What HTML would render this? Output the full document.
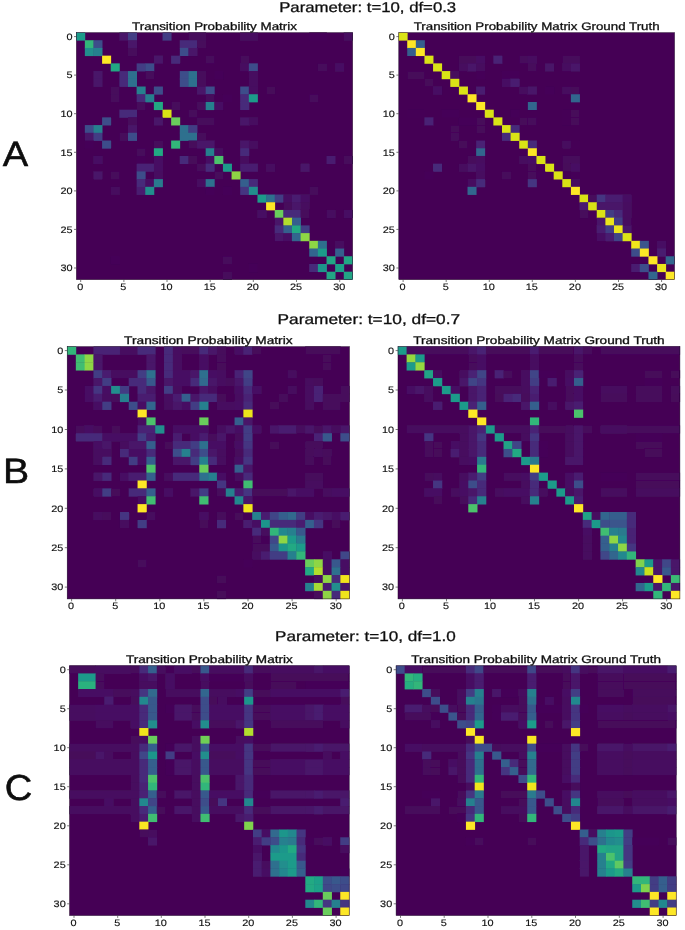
<!DOCTYPE html>
<html><head><meta charset="utf-8"><title>Transition Probability Matrices</title>
<style>
html,body{margin:0;padding:0;background:#fff;}
body{width:685px;height:930px;overflow:hidden;position:relative;font-family:"Liberation Sans",sans-serif;}
svg{position:absolute;left:0;top:0;}
text{font-family:"Liberation Sans",sans-serif;fill:#111;text-rendering:geometricPrecision;}
.tt,.st{stroke:#111;stroke-width:0.3px;}
.tk{stroke:#111;stroke-width:0.15px;}
.tk{font-size:9.4px;}
.tt{font-size:10.9px;}
.st{font-size:14.1px;}
.lb{font-size:36px;}
</style></head><body>
<svg width="685" height="930" viewBox="0 0 685 930">
<defs><filter id="t" x="-5%" y="-30%" width="110%" height="160%"><feGaussianBlur stdDeviation="0.4"/></filter><filter id="b" x="-2%" y="-2%" width="104%" height="104%"><feGaussianBlur stdDeviation="0.75"/></filter></defs>
<rect x="0" y="0" width="685" height="930" fill="#ffffff"/>

<g id="AL">
<g filter="url(#b)"><rect x="76.4" y="32.7" width="276.2" height="246.9" fill="#440154"/>
<rect x="76.20" y="32.50" width="9.03" height="8.12" fill="#1e9b8a"/>
<rect x="119.36" y="32.50" width="9.03" height="8.12" fill="#481769"/>
<rect x="127.99" y="32.50" width="9.03" height="8.12" fill="#433d84"/>
<rect x="162.51" y="32.50" width="9.03" height="8.12" fill="#433d84"/>
<rect x="188.41" y="32.50" width="17.66" height="8.12" fill="#46085c"/>
<rect x="240.19" y="32.50" width="17.66" height="8.12" fill="#470e61"/>
<rect x="309.24" y="32.50" width="17.66" height="8.12" fill="#450559"/>
<rect x="343.77" y="32.50" width="9.03" height="8.12" fill="#470e61"/>
<rect x="84.83" y="40.22" width="9.03" height="8.12" fill="#32b67a"/>
<rect x="93.46" y="40.22" width="9.03" height="8.12" fill="#3d4d8a"/>
<rect x="127.99" y="40.22" width="9.03" height="8.12" fill="#481769"/>
<rect x="179.78" y="40.22" width="17.66" height="8.12" fill="#472c7a"/>
<rect x="197.04" y="40.22" width="9.03" height="8.12" fill="#46085c"/>
<rect x="84.83" y="47.93" width="9.03" height="8.12" fill="#218e8d"/>
<rect x="93.46" y="47.93" width="9.03" height="8.12" fill="#27808e"/>
<rect x="127.99" y="47.93" width="9.03" height="8.12" fill="#46085c"/>
<rect x="179.78" y="47.93" width="9.03" height="8.12" fill="#3d4d8a"/>
<rect x="188.41" y="47.93" width="9.03" height="8.12" fill="#481769"/>
<rect x="102.09" y="55.65" width="9.03" height="8.12" fill="#fde725"/>
<rect x="153.88" y="55.65" width="9.03" height="8.12" fill="#481769"/>
<rect x="171.14" y="55.65" width="9.03" height="8.12" fill="#472c7a"/>
<rect x="205.67" y="55.65" width="9.03" height="8.12" fill="#46085c"/>
<rect x="240.19" y="55.65" width="9.03" height="8.12" fill="#46085c"/>
<rect x="110.73" y="63.36" width="9.03" height="8.12" fill="#23a983"/>
<rect x="136.62" y="63.36" width="9.03" height="8.12" fill="#433d84"/>
<rect x="145.25" y="63.36" width="9.03" height="8.12" fill="#3d4d8a"/>
<rect x="240.19" y="63.36" width="9.03" height="8.12" fill="#470e61"/>
<rect x="248.83" y="63.36" width="9.03" height="8.12" fill="#3d4d8a"/>
<rect x="317.88" y="63.36" width="9.03" height="8.12" fill="#46085c"/>
<rect x="335.14" y="63.36" width="9.03" height="8.12" fill="#471164"/>
<rect x="93.46" y="71.08" width="9.03" height="8.12" fill="#481769"/>
<rect x="119.36" y="71.08" width="9.03" height="8.12" fill="#472c7a"/>
<rect x="127.99" y="71.08" width="9.03" height="8.12" fill="#2d708e"/>
<rect x="145.25" y="71.08" width="9.03" height="8.12" fill="#46085c"/>
<rect x="179.78" y="71.08" width="9.03" height="8.12" fill="#3d4d8a"/>
<rect x="188.41" y="71.08" width="9.03" height="8.12" fill="#2d708e"/>
<rect x="197.04" y="71.08" width="9.03" height="8.12" fill="#46085c"/>
<rect x="214.30" y="71.08" width="9.03" height="8.12" fill="#450559"/>
<rect x="248.83" y="71.08" width="9.03" height="8.12" fill="#470e61"/>
<rect x="93.46" y="78.79" width="9.03" height="8.12" fill="#481769"/>
<rect x="119.36" y="78.79" width="9.03" height="8.12" fill="#472c7a"/>
<rect x="127.99" y="78.79" width="9.03" height="8.12" fill="#2d708e"/>
<rect x="179.78" y="78.79" width="9.03" height="8.12" fill="#3d4d8a"/>
<rect x="188.41" y="78.79" width="9.03" height="8.12" fill="#2d708e"/>
<rect x="197.04" y="78.79" width="9.03" height="8.12" fill="#46085c"/>
<rect x="248.83" y="78.79" width="9.03" height="8.12" fill="#470e61"/>
<rect x="110.73" y="86.51" width="9.03" height="8.12" fill="#46085c"/>
<rect x="136.62" y="86.51" width="9.03" height="8.12" fill="#27808e"/>
<rect x="153.88" y="86.51" width="9.03" height="8.12" fill="#3d4d8a"/>
<rect x="197.04" y="86.51" width="9.03" height="8.12" fill="#481769"/>
<rect x="205.67" y="86.51" width="9.03" height="8.12" fill="#3d4d8a"/>
<rect x="240.19" y="86.51" width="9.03" height="8.12" fill="#3d4d8a"/>
<rect x="248.83" y="86.51" width="9.03" height="8.12" fill="#470e61"/>
<rect x="266.09" y="86.51" width="9.03" height="8.12" fill="#46075a"/>
<rect x="110.73" y="94.23" width="9.03" height="8.12" fill="#46085c"/>
<rect x="136.62" y="94.23" width="9.03" height="8.12" fill="#472c7a"/>
<rect x="145.25" y="94.23" width="9.03" height="8.12" fill="#27808e"/>
<rect x="205.67" y="94.23" width="9.03" height="8.12" fill="#46085c"/>
<rect x="222.93" y="94.23" width="9.03" height="8.12" fill="#450559"/>
<rect x="240.19" y="94.23" width="9.03" height="8.12" fill="#472c7a"/>
<rect x="248.83" y="94.23" width="9.03" height="8.12" fill="#1e9b8a"/>
<rect x="309.24" y="94.23" width="9.03" height="8.12" fill="#46085c"/>
<rect x="136.62" y="101.94" width="9.03" height="8.12" fill="#46085c"/>
<rect x="153.88" y="101.94" width="9.03" height="8.12" fill="#23a983"/>
<rect x="171.14" y="101.94" width="9.03" height="8.12" fill="#46085c"/>
<rect x="197.04" y="101.94" width="9.03" height="8.12" fill="#46085c"/>
<rect x="205.67" y="101.94" width="9.03" height="8.12" fill="#27808e"/>
<rect x="214.30" y="101.94" width="9.03" height="8.12" fill="#471164"/>
<rect x="240.19" y="101.94" width="9.03" height="8.12" fill="#472c7a"/>
<rect x="119.36" y="109.66" width="17.66" height="8.12" fill="#472c7a"/>
<rect x="162.51" y="109.66" width="9.03" height="8.12" fill="#dae319"/>
<rect x="188.41" y="109.66" width="9.03" height="8.12" fill="#46085c"/>
<rect x="102.09" y="117.37" width="9.03" height="8.12" fill="#3d4d8a"/>
<rect x="127.99" y="117.37" width="9.03" height="8.12" fill="#46085c"/>
<rect x="153.88" y="117.37" width="9.03" height="8.12" fill="#481769"/>
<rect x="171.14" y="117.37" width="9.03" height="8.12" fill="#69cd5b"/>
<rect x="197.04" y="117.37" width="17.66" height="8.12" fill="#46085c"/>
<rect x="240.19" y="117.37" width="9.03" height="8.12" fill="#481769"/>
<rect x="248.83" y="117.37" width="9.03" height="8.12" fill="#470e61"/>
<rect x="84.83" y="125.09" width="9.03" height="8.12" fill="#3d4d8a"/>
<rect x="93.46" y="125.09" width="9.03" height="8.12" fill="#27808e"/>
<rect x="127.99" y="125.09" width="9.03" height="8.12" fill="#481769"/>
<rect x="179.78" y="125.09" width="9.03" height="8.12" fill="#2d708e"/>
<rect x="188.41" y="125.09" width="9.03" height="8.12" fill="#433d84"/>
<rect x="84.83" y="132.80" width="9.03" height="8.12" fill="#481769"/>
<rect x="93.46" y="132.80" width="9.03" height="8.12" fill="#433d84"/>
<rect x="119.36" y="132.80" width="9.03" height="8.12" fill="#46085c"/>
<rect x="127.99" y="132.80" width="9.03" height="8.12" fill="#3d4d8a"/>
<rect x="179.78" y="132.80" width="17.66" height="8.12" fill="#2d708e"/>
<rect x="197.04" y="132.80" width="9.03" height="8.12" fill="#46085c"/>
<rect x="84.83" y="140.52" width="9.03" height="8.12" fill="#450559"/>
<rect x="102.09" y="140.52" width="9.03" height="8.12" fill="#3d4d8a"/>
<rect x="153.88" y="140.52" width="9.03" height="8.12" fill="#46085c"/>
<rect x="171.14" y="140.52" width="9.03" height="8.12" fill="#32b67a"/>
<rect x="188.41" y="140.52" width="9.03" height="8.12" fill="#46085c"/>
<rect x="197.04" y="140.52" width="17.66" height="8.12" fill="#481769"/>
<rect x="240.19" y="140.52" width="9.03" height="8.12" fill="#481769"/>
<rect x="248.83" y="140.52" width="9.03" height="8.12" fill="#470e61"/>
<rect x="136.62" y="148.23" width="9.03" height="8.12" fill="#46085c"/>
<rect x="153.88" y="148.23" width="9.03" height="8.12" fill="#23a983"/>
<rect x="205.67" y="148.23" width="9.03" height="8.12" fill="#27808e"/>
<rect x="214.30" y="148.23" width="9.03" height="8.12" fill="#460b5e"/>
<rect x="240.19" y="148.23" width="9.03" height="8.12" fill="#472c7a"/>
<rect x="93.46" y="155.95" width="9.03" height="8.12" fill="#471164"/>
<rect x="136.62" y="155.95" width="9.03" height="8.12" fill="#450559"/>
<rect x="153.88" y="155.95" width="9.03" height="8.12" fill="#471164"/>
<rect x="179.78" y="155.95" width="9.03" height="8.12" fill="#472c7a"/>
<rect x="188.41" y="155.95" width="9.03" height="8.12" fill="#46075a"/>
<rect x="205.67" y="155.95" width="9.03" height="8.12" fill="#471164"/>
<rect x="214.30" y="155.95" width="9.03" height="8.12" fill="#4cc26c"/>
<rect x="240.19" y="155.95" width="9.03" height="8.12" fill="#460b5e"/>
<rect x="326.51" y="155.95" width="9.03" height="8.12" fill="#481f70"/>
<rect x="343.77" y="155.95" width="9.03" height="8.12" fill="#46085c"/>
<rect x="136.62" y="163.67" width="17.66" height="8.12" fill="#482475"/>
<rect x="153.88" y="163.67" width="9.03" height="8.12" fill="#471164"/>
<rect x="197.04" y="163.67" width="9.03" height="8.12" fill="#46085c"/>
<rect x="205.67" y="163.67" width="9.03" height="8.12" fill="#472c7a"/>
<rect x="222.93" y="163.67" width="9.03" height="8.12" fill="#1e9b8a"/>
<rect x="240.19" y="163.67" width="17.66" height="8.12" fill="#481f70"/>
<rect x="266.09" y="163.67" width="9.03" height="8.12" fill="#470e61"/>
<rect x="300.61" y="163.67" width="9.03" height="8.12" fill="#481769"/>
<rect x="93.46" y="171.38" width="9.03" height="8.12" fill="#481769"/>
<rect x="110.73" y="171.38" width="9.03" height="8.12" fill="#46085c"/>
<rect x="136.62" y="171.38" width="9.03" height="8.12" fill="#3d4d8a"/>
<rect x="153.88" y="171.38" width="9.03" height="8.12" fill="#470e61"/>
<rect x="214.30" y="171.38" width="9.03" height="8.12" fill="#46085c"/>
<rect x="231.56" y="171.38" width="9.03" height="8.12" fill="#8ed645"/>
<rect x="136.62" y="179.10" width="9.03" height="8.12" fill="#472c7a"/>
<rect x="145.25" y="179.10" width="9.03" height="8.12" fill="#471164"/>
<rect x="153.88" y="179.10" width="9.03" height="8.12" fill="#297a8e"/>
<rect x="197.04" y="179.10" width="9.03" height="8.12" fill="#470e61"/>
<rect x="205.67" y="179.10" width="9.03" height="8.12" fill="#2d708e"/>
<rect x="240.19" y="179.10" width="9.03" height="8.12" fill="#355f8d"/>
<rect x="248.83" y="179.10" width="9.03" height="8.12" fill="#472c7a"/>
<rect x="110.73" y="186.81" width="9.03" height="8.12" fill="#460b5e"/>
<rect x="136.62" y="186.81" width="9.03" height="8.12" fill="#481f70"/>
<rect x="145.25" y="186.81" width="9.03" height="8.12" fill="#218e8d"/>
<rect x="205.67" y="186.81" width="9.03" height="8.12" fill="#450559"/>
<rect x="222.93" y="186.81" width="9.03" height="8.12" fill="#450559"/>
<rect x="240.19" y="186.81" width="9.03" height="8.12" fill="#453581"/>
<rect x="248.83" y="186.81" width="9.03" height="8.12" fill="#218e8d"/>
<rect x="309.24" y="186.81" width="9.03" height="8.12" fill="#46085c"/>
<rect x="257.46" y="194.53" width="9.03" height="8.12" fill="#1e9b8a"/>
<rect x="266.09" y="194.53" width="9.03" height="8.12" fill="#2d708e"/>
<rect x="274.72" y="194.53" width="9.03" height="8.12" fill="#433d84"/>
<rect x="283.35" y="194.53" width="9.03" height="8.12" fill="#471164"/>
<rect x="291.98" y="194.53" width="9.03" height="8.12" fill="#481f70"/>
<rect x="300.61" y="194.53" width="9.03" height="8.12" fill="#471164"/>
<rect x="266.09" y="202.24" width="9.03" height="8.12" fill="#fde725"/>
<rect x="283.35" y="202.24" width="9.03" height="8.12" fill="#46085c"/>
<rect x="291.98" y="202.24" width="9.03" height="8.12" fill="#481769"/>
<rect x="300.61" y="202.24" width="9.03" height="8.12" fill="#460b5e"/>
<rect x="257.46" y="209.96" width="9.03" height="8.12" fill="#471164"/>
<rect x="274.72" y="209.96" width="9.03" height="8.12" fill="#69cd5b"/>
<rect x="283.35" y="209.96" width="17.66" height="8.12" fill="#472c7a"/>
<rect x="300.61" y="209.96" width="9.03" height="8.12" fill="#46085c"/>
<rect x="326.51" y="209.96" width="9.03" height="8.12" fill="#470e61"/>
<rect x="343.77" y="209.96" width="9.03" height="8.12" fill="#471164"/>
<rect x="274.72" y="217.68" width="9.03" height="8.12" fill="#481769"/>
<rect x="283.35" y="217.68" width="9.03" height="8.12" fill="#b2dd2d"/>
<rect x="291.98" y="217.68" width="9.03" height="8.12" fill="#355f8d"/>
<rect x="274.72" y="225.39" width="9.03" height="8.12" fill="#472c7a"/>
<rect x="283.35" y="225.39" width="9.03" height="8.12" fill="#355f8d"/>
<rect x="291.98" y="225.39" width="9.03" height="8.12" fill="#23a983"/>
<rect x="300.61" y="225.39" width="9.03" height="8.12" fill="#433d84"/>
<rect x="274.72" y="233.11" width="9.03" height="8.12" fill="#481769"/>
<rect x="283.35" y="233.11" width="9.03" height="8.12" fill="#471164"/>
<rect x="291.98" y="233.11" width="9.03" height="8.12" fill="#31668e"/>
<rect x="300.61" y="233.11" width="9.03" height="8.12" fill="#8ed645"/>
<rect x="309.24" y="240.82" width="9.03" height="8.12" fill="#8ed645"/>
<rect x="317.88" y="240.82" width="9.03" height="8.12" fill="#2d708e"/>
<rect x="335.14" y="240.82" width="9.03" height="8.12" fill="#470e61"/>
<rect x="309.24" y="248.54" width="9.03" height="8.12" fill="#31668e"/>
<rect x="317.88" y="248.54" width="9.03" height="8.12" fill="#1e9b8a"/>
<rect x="335.14" y="248.54" width="9.03" height="8.12" fill="#355f8d"/>
<rect x="110.73" y="256.25" width="9.03" height="8.12" fill="#450559"/>
<rect x="222.93" y="256.25" width="9.03" height="8.12" fill="#46085c"/>
<rect x="326.51" y="256.25" width="9.03" height="8.12" fill="#21a685"/>
<rect x="343.77" y="256.25" width="9.03" height="8.12" fill="#21a685"/>
<rect x="248.83" y="263.97" width="9.03" height="8.12" fill="#450559"/>
<rect x="309.24" y="263.97" width="9.03" height="8.12" fill="#472c7a"/>
<rect x="317.88" y="263.97" width="9.03" height="8.12" fill="#1f968b"/>
<rect x="335.14" y="263.97" width="9.03" height="8.12" fill="#1fa188"/>
<rect x="222.93" y="271.68" width="9.03" height="8.12" fill="#46085c"/>
<rect x="326.51" y="271.68" width="9.03" height="8.12" fill="#21a685"/>
<rect x="343.77" y="271.68" width="9.03" height="8.12" fill="#21a685"/>
<rect x="76.4" y="32.7" width="276.2" height="246.9" fill="none" stroke="#1c0824" stroke-width="0.5"/>
</g>
<g filter="url(#t)">
<text class="tk" transform="translate(72.5 39.9) scale(1.16 1)" text-anchor="end">0</text>
<text class="tk" transform="translate(80.2 289.8) scale(1.16 1)" text-anchor="middle">0</text>
<text class="tk" transform="translate(72.5 78.4) scale(1.16 1)" text-anchor="end">5</text>
<text class="tk" transform="translate(123.4 289.8) scale(1.16 1)" text-anchor="middle">5</text>
<text class="tk" transform="translate(72.5 117.0) scale(1.16 1)" text-anchor="end">10</text>
<text class="tk" transform="translate(166.5 289.8) scale(1.16 1)" text-anchor="middle">10</text>
<text class="tk" transform="translate(72.5 155.6) scale(1.16 1)" text-anchor="end">15</text>
<text class="tk" transform="translate(209.7 289.8) scale(1.16 1)" text-anchor="middle">15</text>
<text class="tk" transform="translate(72.5 194.2) scale(1.16 1)" text-anchor="end">20</text>
<text class="tk" transform="translate(252.8 289.8) scale(1.16 1)" text-anchor="middle">20</text>
<text class="tk" transform="translate(72.5 232.7) scale(1.16 1)" text-anchor="end">25</text>
<text class="tk" transform="translate(296.0 289.8) scale(1.16 1)" text-anchor="middle">25</text>
<text class="tk" transform="translate(72.5 271.3) scale(1.16 1)" text-anchor="end">30</text>
<text class="tk" transform="translate(339.2 289.8) scale(1.16 1)" text-anchor="middle">30</text>
<path d="M74.0 36.6H76.4M80.7 279.6V282.0M74.0 75.1H76.4M123.9 279.6V282.0M74.0 113.7H76.4M167.0 279.6V282.0M74.0 152.3H76.4M210.2 279.6V282.0M74.0 190.9H76.4M253.3 279.6V282.0M74.0 229.4H76.4M296.5 279.6V282.0M74.0 268.0H76.4M339.7 279.6V282.0" stroke="#444" stroke-width="0.7" fill="none"/>
<text class="tt" x="132.1" y="30.0" textLength="164.9" lengthAdjust="spacingAndGlyphs">Transition Probability Matrix</text>
</g></g>
<g id="AR">
<g filter="url(#b)"><rect x="398.8" y="32.7" width="275.7" height="246.9" fill="#440154"/>
<rect x="398.60" y="32.50" width="9.02" height="8.12" fill="#dae319"/>
<rect x="407.22" y="40.22" width="9.02" height="8.12" fill="#fde725"/>
<rect x="415.83" y="40.22" width="9.02" height="8.12" fill="#355f8d"/>
<rect x="407.22" y="47.93" width="9.02" height="8.12" fill="#355f8d"/>
<rect x="415.83" y="47.93" width="9.02" height="8.12" fill="#fde725"/>
<rect x="424.45" y="55.65" width="9.02" height="8.12" fill="#dae319"/>
<rect x="458.91" y="55.65" width="17.63" height="8.12" fill="#46075a"/>
<rect x="476.14" y="55.65" width="9.02" height="8.12" fill="#471164"/>
<rect x="493.37" y="55.65" width="9.02" height="8.12" fill="#482475"/>
<rect x="519.22" y="55.65" width="9.02" height="8.12" fill="#46085c"/>
<rect x="527.83" y="55.65" width="9.02" height="8.12" fill="#470e61"/>
<rect x="562.30" y="55.65" width="17.63" height="8.12" fill="#46085c"/>
<rect x="433.06" y="63.36" width="9.02" height="8.12" fill="#dae319"/>
<rect x="458.91" y="63.36" width="9.02" height="8.12" fill="#460b5e"/>
<rect x="467.53" y="63.36" width="9.02" height="8.12" fill="#481769"/>
<rect x="476.14" y="63.36" width="9.02" height="8.12" fill="#460b5e"/>
<rect x="527.83" y="63.36" width="9.02" height="8.12" fill="#46085c"/>
<rect x="545.07" y="63.36" width="9.02" height="8.12" fill="#481467"/>
<rect x="562.30" y="63.36" width="9.02" height="8.12" fill="#470e61"/>
<rect x="570.91" y="63.36" width="9.02" height="8.12" fill="#481769"/>
<rect x="407.22" y="71.08" width="17.63" height="8.12" fill="#46075a"/>
<rect x="441.68" y="71.08" width="9.02" height="8.12" fill="#dae319"/>
<rect x="450.29" y="71.08" width="9.02" height="8.12" fill="#46085c"/>
<rect x="476.14" y="71.08" width="9.02" height="8.12" fill="#450559"/>
<rect x="501.99" y="71.08" width="17.63" height="8.12" fill="#450559"/>
<rect x="424.45" y="78.79" width="9.02" height="8.12" fill="#46075a"/>
<rect x="450.29" y="78.79" width="9.02" height="8.12" fill="#dae319"/>
<rect x="501.99" y="78.79" width="9.02" height="8.12" fill="#471164"/>
<rect x="510.60" y="78.79" width="9.02" height="8.12" fill="#481f70"/>
<rect x="433.06" y="86.51" width="9.02" height="8.12" fill="#471164"/>
<rect x="458.91" y="86.51" width="9.02" height="8.12" fill="#dae319"/>
<rect x="476.14" y="86.51" width="9.02" height="8.12" fill="#481f70"/>
<rect x="519.22" y="86.51" width="9.02" height="8.12" fill="#460b5e"/>
<rect x="527.83" y="86.51" width="9.02" height="8.12" fill="#481769"/>
<rect x="545.07" y="86.51" width="9.02" height="8.12" fill="#450559"/>
<rect x="562.30" y="86.51" width="9.02" height="8.12" fill="#460b5e"/>
<rect x="570.91" y="86.51" width="9.02" height="8.12" fill="#46075a"/>
<rect x="467.53" y="94.23" width="9.02" height="8.12" fill="#fde725"/>
<rect x="570.91" y="94.23" width="9.02" height="8.12" fill="#31668e"/>
<rect x="476.14" y="101.94" width="9.02" height="8.12" fill="#fde725"/>
<rect x="527.83" y="101.94" width="9.02" height="8.12" fill="#31668e"/>
<rect x="407.22" y="109.66" width="17.63" height="8.12" fill="#450457"/>
<rect x="441.68" y="109.66" width="17.63" height="8.12" fill="#450559"/>
<rect x="484.76" y="109.66" width="9.02" height="8.12" fill="#dae319"/>
<rect x="510.60" y="109.66" width="9.02" height="8.12" fill="#450559"/>
<rect x="562.30" y="109.66" width="9.02" height="8.12" fill="#450457"/>
<rect x="570.91" y="109.66" width="9.02" height="8.12" fill="#46075a"/>
<rect x="424.45" y="117.37" width="9.02" height="8.12" fill="#482475"/>
<rect x="458.91" y="117.37" width="17.63" height="8.12" fill="#450559"/>
<rect x="476.14" y="117.37" width="9.02" height="8.12" fill="#46075a"/>
<rect x="493.37" y="117.37" width="9.02" height="8.12" fill="#dae319"/>
<rect x="519.22" y="117.37" width="9.02" height="8.12" fill="#46075a"/>
<rect x="527.83" y="117.37" width="9.02" height="8.12" fill="#46085c"/>
<rect x="562.30" y="117.37" width="9.02" height="8.12" fill="#450457"/>
<rect x="570.91" y="117.37" width="9.02" height="8.12" fill="#46075a"/>
<rect x="450.29" y="125.09" width="9.02" height="8.12" fill="#46075a"/>
<rect x="476.14" y="125.09" width="9.02" height="8.12" fill="#46075a"/>
<rect x="501.99" y="125.09" width="9.02" height="8.12" fill="#dae319"/>
<rect x="510.60" y="125.09" width="9.02" height="8.12" fill="#472c7a"/>
<rect x="450.29" y="132.80" width="9.02" height="8.12" fill="#46085c"/>
<rect x="501.99" y="132.80" width="9.02" height="8.12" fill="#472c7a"/>
<rect x="510.60" y="132.80" width="9.02" height="8.12" fill="#dae319"/>
<rect x="458.91" y="140.52" width="9.02" height="8.12" fill="#46075a"/>
<rect x="476.14" y="140.52" width="9.02" height="8.12" fill="#482475"/>
<rect x="519.22" y="140.52" width="9.02" height="8.12" fill="#dae319"/>
<rect x="527.83" y="140.52" width="9.02" height="8.12" fill="#472c7a"/>
<rect x="562.30" y="140.52" width="9.02" height="8.12" fill="#460b5e"/>
<rect x="570.91" y="140.52" width="9.02" height="8.12" fill="#450457"/>
<rect x="476.14" y="148.23" width="9.02" height="8.12" fill="#31668e"/>
<rect x="527.83" y="148.23" width="9.02" height="8.12" fill="#fde725"/>
<rect x="467.53" y="155.95" width="9.02" height="8.12" fill="#46085c"/>
<rect x="476.14" y="155.95" width="9.02" height="8.12" fill="#470e61"/>
<rect x="519.22" y="155.95" width="9.02" height="8.12" fill="#460b5e"/>
<rect x="527.83" y="155.95" width="9.02" height="8.12" fill="#471164"/>
<rect x="536.45" y="155.95" width="9.02" height="8.12" fill="#dae319"/>
<rect x="562.30" y="155.95" width="17.63" height="8.12" fill="#46085c"/>
<rect x="433.06" y="163.67" width="9.02" height="8.12" fill="#472c7a"/>
<rect x="458.91" y="163.67" width="9.02" height="8.12" fill="#460b5e"/>
<rect x="467.53" y="163.67" width="9.02" height="8.12" fill="#481769"/>
<rect x="476.14" y="163.67" width="9.02" height="8.12" fill="#471164"/>
<rect x="527.83" y="163.67" width="9.02" height="8.12" fill="#46075a"/>
<rect x="545.07" y="163.67" width="9.02" height="8.12" fill="#dae319"/>
<rect x="562.30" y="163.67" width="9.02" height="8.12" fill="#46075a"/>
<rect x="570.91" y="163.67" width="9.02" height="8.12" fill="#471164"/>
<rect x="424.45" y="171.38" width="9.02" height="8.12" fill="#450559"/>
<rect x="476.14" y="171.38" width="9.02" height="8.12" fill="#470e61"/>
<rect x="501.99" y="171.38" width="9.02" height="8.12" fill="#46085c"/>
<rect x="527.83" y="171.38" width="9.02" height="8.12" fill="#46085c"/>
<rect x="536.45" y="171.38" width="9.02" height="8.12" fill="#450559"/>
<rect x="553.68" y="171.38" width="9.02" height="8.12" fill="#dae319"/>
<rect x="570.91" y="171.38" width="9.02" height="8.12" fill="#450559"/>
<rect x="467.53" y="179.10" width="9.02" height="8.12" fill="#470e61"/>
<rect x="476.14" y="179.10" width="9.02" height="8.12" fill="#472c7a"/>
<rect x="527.83" y="179.10" width="9.02" height="8.12" fill="#453581"/>
<rect x="562.30" y="179.10" width="9.02" height="8.12" fill="#dae319"/>
<rect x="570.91" y="179.10" width="9.02" height="8.12" fill="#460b5e"/>
<rect x="467.53" y="186.81" width="9.02" height="8.12" fill="#31668e"/>
<rect x="570.91" y="186.81" width="9.02" height="8.12" fill="#fde725"/>
<rect x="579.53" y="194.53" width="9.02" height="8.12" fill="#dae319"/>
<rect x="588.14" y="194.53" width="9.02" height="8.12" fill="#46085c"/>
<rect x="596.76" y="194.53" width="9.02" height="8.12" fill="#453581"/>
<rect x="605.38" y="194.53" width="17.63" height="8.12" fill="#481f70"/>
<rect x="622.61" y="194.53" width="9.02" height="8.12" fill="#471164"/>
<rect x="579.53" y="202.24" width="9.02" height="8.12" fill="#481f70"/>
<rect x="588.14" y="202.24" width="9.02" height="8.12" fill="#dae319"/>
<rect x="596.76" y="202.24" width="26.25" height="8.12" fill="#481769"/>
<rect x="622.61" y="202.24" width="9.02" height="8.12" fill="#470e61"/>
<rect x="579.53" y="209.96" width="9.02" height="8.12" fill="#46085c"/>
<rect x="596.76" y="209.96" width="9.02" height="8.12" fill="#dae319"/>
<rect x="605.38" y="209.96" width="9.02" height="8.12" fill="#433d84"/>
<rect x="613.99" y="209.96" width="9.02" height="8.12" fill="#472c7a"/>
<rect x="622.61" y="209.96" width="9.02" height="8.12" fill="#470e61"/>
<rect x="596.76" y="217.68" width="9.02" height="8.12" fill="#481769"/>
<rect x="605.38" y="217.68" width="9.02" height="8.12" fill="#eae51a"/>
<rect x="613.99" y="217.68" width="9.02" height="8.12" fill="#433d84"/>
<rect x="622.61" y="217.68" width="9.02" height="8.12" fill="#460b5e"/>
<rect x="596.76" y="225.39" width="9.02" height="8.12" fill="#481f70"/>
<rect x="605.38" y="225.39" width="9.02" height="8.12" fill="#433d84"/>
<rect x="613.99" y="225.39" width="9.02" height="8.12" fill="#eae51a"/>
<rect x="622.61" y="225.39" width="9.02" height="8.12" fill="#481769"/>
<rect x="596.76" y="233.11" width="9.02" height="8.12" fill="#471164"/>
<rect x="605.38" y="233.11" width="9.02" height="8.12" fill="#481f70"/>
<rect x="613.99" y="233.11" width="9.02" height="8.12" fill="#414487"/>
<rect x="622.61" y="233.11" width="9.02" height="8.12" fill="#dae319"/>
<rect x="631.22" y="240.82" width="9.02" height="8.12" fill="#f1e51d"/>
<rect x="639.84" y="240.82" width="9.02" height="8.12" fill="#3a548c"/>
<rect x="657.07" y="240.82" width="9.02" height="8.12" fill="#471164"/>
<rect x="631.22" y="248.54" width="9.02" height="8.12" fill="#3d4d8a"/>
<rect x="639.84" y="248.54" width="9.02" height="8.12" fill="#fde725"/>
<rect x="657.07" y="248.54" width="9.02" height="8.12" fill="#481f70"/>
<rect x="648.45" y="256.25" width="9.02" height="8.12" fill="#fde725"/>
<rect x="665.68" y="256.25" width="9.02" height="8.12" fill="#31668e"/>
<rect x="631.22" y="263.97" width="9.02" height="8.12" fill="#481f70"/>
<rect x="639.84" y="263.97" width="9.02" height="8.12" fill="#3d4d8a"/>
<rect x="657.07" y="263.97" width="9.02" height="8.12" fill="#eae51a"/>
<rect x="648.45" y="271.68" width="9.02" height="8.12" fill="#31668e"/>
<rect x="665.68" y="271.68" width="9.02" height="8.12" fill="#fde725"/>
<rect x="398.8" y="32.7" width="275.7" height="246.9" fill="none" stroke="#1c0824" stroke-width="0.5"/>
</g>
<g filter="url(#t)">
<text class="tk" transform="translate(394.9 39.9) scale(1.16 1)" text-anchor="end">0</text>
<text class="tk" transform="translate(402.6 289.8) scale(1.16 1)" text-anchor="middle">0</text>
<text class="tk" transform="translate(394.9 78.4) scale(1.16 1)" text-anchor="end">5</text>
<text class="tk" transform="translate(445.7 289.8) scale(1.16 1)" text-anchor="middle">5</text>
<text class="tk" transform="translate(394.9 117.0) scale(1.16 1)" text-anchor="end">10</text>
<text class="tk" transform="translate(488.8 289.8) scale(1.16 1)" text-anchor="middle">10</text>
<text class="tk" transform="translate(394.9 155.6) scale(1.16 1)" text-anchor="end">15</text>
<text class="tk" transform="translate(531.8 289.8) scale(1.16 1)" text-anchor="middle">15</text>
<text class="tk" transform="translate(394.9 194.2) scale(1.16 1)" text-anchor="end">20</text>
<text class="tk" transform="translate(574.9 289.8) scale(1.16 1)" text-anchor="middle">20</text>
<text class="tk" transform="translate(394.9 232.7) scale(1.16 1)" text-anchor="end">25</text>
<text class="tk" transform="translate(618.0 289.8) scale(1.16 1)" text-anchor="middle">25</text>
<text class="tk" transform="translate(394.9 271.3) scale(1.16 1)" text-anchor="end">30</text>
<text class="tk" transform="translate(661.1 289.8) scale(1.16 1)" text-anchor="middle">30</text>
<path d="M396.4 36.6H398.8M403.1 279.6V282.0M396.4 75.1H398.8M446.2 279.6V282.0M396.4 113.7H398.8M489.3 279.6V282.0M396.4 152.3H398.8M532.3 279.6V282.0M396.4 190.9H398.8M575.4 279.6V282.0M396.4 229.4H398.8M618.5 279.6V282.0M396.4 268.0H398.8M661.6 279.6V282.0" stroke="#444" stroke-width="0.7" fill="none"/>
<text class="tt" x="413.7" y="30.0" textLength="245.9" lengthAdjust="spacingAndGlyphs">Transition Probability Matrix Ground Truth</text>
</g></g>
<g id="BL">
<g filter="url(#b)"><rect x="67.2" y="346.7" width="282.2" height="252.2" fill="#440154"/>
<rect x="67.00" y="346.50" width="9.22" height="8.28" fill="#32b67a"/>
<rect x="93.46" y="346.50" width="26.86" height="8.28" fill="#482475"/>
<rect x="119.91" y="346.50" width="18.04" height="8.28" fill="#470e61"/>
<rect x="137.55" y="346.50" width="18.04" height="8.28" fill="#472c7a"/>
<rect x="164.01" y="346.50" width="9.22" height="8.28" fill="#472c7a"/>
<rect x="172.82" y="346.50" width="9.22" height="8.28" fill="#470e61"/>
<rect x="181.64" y="346.50" width="18.04" height="8.28" fill="#46085c"/>
<rect x="199.28" y="346.50" width="9.22" height="8.28" fill="#472c7a"/>
<rect x="208.10" y="346.50" width="9.22" height="8.28" fill="#481769"/>
<rect x="216.92" y="346.50" width="9.22" height="8.28" fill="#46085c"/>
<rect x="234.56" y="346.50" width="9.22" height="8.28" fill="#471164"/>
<rect x="243.38" y="346.50" width="9.22" height="8.28" fill="#482475"/>
<rect x="252.19" y="346.50" width="9.22" height="8.28" fill="#46075a"/>
<rect x="305.11" y="346.50" width="35.67" height="8.28" fill="#46075a"/>
<rect x="75.82" y="354.38" width="9.22" height="8.28" fill="#40bd72"/>
<rect x="84.64" y="354.38" width="9.22" height="8.28" fill="#8ed645"/>
<rect x="93.46" y="354.38" width="9.22" height="8.28" fill="#481769"/>
<rect x="146.37" y="354.38" width="9.22" height="8.28" fill="#481769"/>
<rect x="164.01" y="354.38" width="9.22" height="8.28" fill="#472c7a"/>
<rect x="172.82" y="354.38" width="9.22" height="8.28" fill="#470e61"/>
<rect x="199.28" y="354.38" width="9.22" height="8.28" fill="#471164"/>
<rect x="216.92" y="354.38" width="9.22" height="8.28" fill="#46085c"/>
<rect x="322.74" y="354.38" width="9.22" height="8.28" fill="#46075a"/>
<rect x="75.82" y="362.26" width="9.22" height="8.28" fill="#40bd72"/>
<rect x="84.64" y="362.26" width="9.22" height="8.28" fill="#8ed645"/>
<rect x="93.46" y="362.26" width="9.22" height="8.28" fill="#481769"/>
<rect x="146.37" y="362.26" width="9.22" height="8.28" fill="#481769"/>
<rect x="164.01" y="362.26" width="9.22" height="8.28" fill="#472c7a"/>
<rect x="172.82" y="362.26" width="9.22" height="8.28" fill="#470e61"/>
<rect x="199.28" y="362.26" width="9.22" height="8.28" fill="#471164"/>
<rect x="216.92" y="362.26" width="9.22" height="8.28" fill="#46075a"/>
<rect x="322.74" y="362.26" width="9.22" height="8.28" fill="#46075a"/>
<rect x="93.46" y="370.14" width="9.22" height="8.28" fill="#433d84"/>
<rect x="102.27" y="370.14" width="9.22" height="8.28" fill="#481f70"/>
<rect x="111.09" y="370.14" width="26.86" height="8.28" fill="#470e61"/>
<rect x="137.55" y="370.14" width="9.22" height="8.28" fill="#433d84"/>
<rect x="146.37" y="370.14" width="9.22" height="8.28" fill="#2d708e"/>
<rect x="164.01" y="370.14" width="9.22" height="8.28" fill="#472c7a"/>
<rect x="172.82" y="370.14" width="18.04" height="8.28" fill="#471164"/>
<rect x="190.46" y="370.14" width="9.22" height="8.28" fill="#481769"/>
<rect x="199.28" y="370.14" width="9.22" height="8.28" fill="#2d708e"/>
<rect x="208.10" y="370.14" width="9.22" height="8.28" fill="#471164"/>
<rect x="216.92" y="370.14" width="9.22" height="8.28" fill="#470e61"/>
<rect x="234.56" y="370.14" width="9.22" height="8.28" fill="#482475"/>
<rect x="243.38" y="370.14" width="9.22" height="8.28" fill="#414487"/>
<rect x="287.47" y="370.14" width="9.22" height="8.28" fill="#460b5e"/>
<rect x="93.46" y="378.02" width="9.22" height="8.28" fill="#481769"/>
<rect x="102.27" y="378.02" width="9.22" height="8.28" fill="#433d84"/>
<rect x="128.73" y="378.02" width="18.04" height="8.28" fill="#472c7a"/>
<rect x="146.37" y="378.02" width="9.22" height="8.28" fill="#38588c"/>
<rect x="164.01" y="378.02" width="9.22" height="8.28" fill="#481769"/>
<rect x="172.82" y="378.02" width="18.04" height="8.28" fill="#471164"/>
<rect x="190.46" y="378.02" width="9.22" height="8.28" fill="#472c7a"/>
<rect x="199.28" y="378.02" width="9.22" height="8.28" fill="#306a8e"/>
<rect x="208.10" y="378.02" width="9.22" height="8.28" fill="#481769"/>
<rect x="216.92" y="378.02" width="9.22" height="8.28" fill="#470e61"/>
<rect x="225.74" y="378.02" width="9.22" height="8.28" fill="#46085c"/>
<rect x="234.56" y="378.02" width="9.22" height="8.28" fill="#481769"/>
<rect x="243.38" y="378.02" width="9.22" height="8.28" fill="#433d84"/>
<rect x="305.11" y="378.02" width="9.22" height="8.28" fill="#460b5e"/>
<rect x="313.93" y="378.02" width="9.22" height="8.28" fill="#46085c"/>
<rect x="84.64" y="385.91" width="9.22" height="8.28" fill="#471164"/>
<rect x="93.46" y="385.91" width="9.22" height="8.28" fill="#453581"/>
<rect x="102.27" y="385.91" width="9.22" height="8.28" fill="#471164"/>
<rect x="111.09" y="385.91" width="9.22" height="8.28" fill="#218e8d"/>
<rect x="119.91" y="385.91" width="9.22" height="8.28" fill="#433d84"/>
<rect x="137.55" y="385.91" width="9.22" height="8.28" fill="#472c7a"/>
<rect x="146.37" y="385.91" width="9.22" height="8.28" fill="#481769"/>
<rect x="164.01" y="385.91" width="9.22" height="8.28" fill="#433d84"/>
<rect x="172.82" y="385.91" width="9.22" height="8.28" fill="#460b5e"/>
<rect x="199.28" y="385.91" width="9.22" height="8.28" fill="#481769"/>
<rect x="208.10" y="385.91" width="9.22" height="8.28" fill="#470e61"/>
<rect x="234.56" y="385.91" width="9.22" height="8.28" fill="#471164"/>
<rect x="243.38" y="385.91" width="9.22" height="8.28" fill="#472c7a"/>
<rect x="252.19" y="385.91" width="9.22" height="8.28" fill="#471164"/>
<rect x="287.47" y="385.91" width="9.22" height="8.28" fill="#460b5e"/>
<rect x="305.11" y="385.91" width="9.22" height="8.28" fill="#470e61"/>
<rect x="313.93" y="385.91" width="9.22" height="8.28" fill="#482475"/>
<rect x="340.38" y="385.91" width="9.22" height="8.28" fill="#46085c"/>
<rect x="84.64" y="393.79" width="9.22" height="8.28" fill="#471164"/>
<rect x="93.46" y="393.79" width="9.22" height="8.28" fill="#481f70"/>
<rect x="102.27" y="393.79" width="9.22" height="8.28" fill="#470e61"/>
<rect x="111.09" y="393.79" width="9.22" height="8.28" fill="#46085c"/>
<rect x="119.91" y="393.79" width="9.22" height="8.28" fill="#27808e"/>
<rect x="137.55" y="393.79" width="18.04" height="8.28" fill="#481f70"/>
<rect x="164.01" y="393.79" width="9.22" height="8.28" fill="#470e61"/>
<rect x="172.82" y="393.79" width="9.22" height="8.28" fill="#481f70"/>
<rect x="181.64" y="393.79" width="9.22" height="8.28" fill="#355f8d"/>
<rect x="190.46" y="393.79" width="9.22" height="8.28" fill="#481769"/>
<rect x="199.28" y="393.79" width="18.04" height="8.28" fill="#472c7a"/>
<rect x="216.92" y="393.79" width="9.22" height="8.28" fill="#46075a"/>
<rect x="234.56" y="393.79" width="9.22" height="8.28" fill="#470e61"/>
<rect x="243.38" y="393.79" width="9.22" height="8.28" fill="#482475"/>
<rect x="278.65" y="393.79" width="9.22" height="8.28" fill="#46085c"/>
<rect x="305.11" y="393.79" width="9.22" height="8.28" fill="#470e61"/>
<rect x="313.93" y="393.79" width="9.22" height="8.28" fill="#482475"/>
<rect x="322.74" y="393.79" width="26.86" height="8.28" fill="#46085c"/>
<rect x="93.46" y="401.67" width="9.22" height="8.28" fill="#471164"/>
<rect x="102.27" y="401.67" width="9.22" height="8.28" fill="#433d84"/>
<rect x="128.73" y="401.67" width="9.22" height="8.28" fill="#3d4d8a"/>
<rect x="137.55" y="401.67" width="9.22" height="8.28" fill="#471164"/>
<rect x="146.37" y="401.67" width="9.22" height="8.28" fill="#31668e"/>
<rect x="164.01" y="401.67" width="9.22" height="8.28" fill="#460b5e"/>
<rect x="172.82" y="401.67" width="9.22" height="8.28" fill="#481769"/>
<rect x="181.64" y="401.67" width="9.22" height="8.28" fill="#471164"/>
<rect x="190.46" y="401.67" width="9.22" height="8.28" fill="#433d84"/>
<rect x="199.28" y="401.67" width="9.22" height="8.28" fill="#27808e"/>
<rect x="216.92" y="401.67" width="18.04" height="8.28" fill="#470e61"/>
<rect x="234.56" y="401.67" width="9.22" height="8.28" fill="#471164"/>
<rect x="243.38" y="401.67" width="9.22" height="8.28" fill="#472c7a"/>
<rect x="269.83" y="401.67" width="9.22" height="8.28" fill="#46075a"/>
<rect x="305.11" y="401.67" width="9.22" height="8.28" fill="#460b5e"/>
<rect x="322.74" y="401.67" width="18.04" height="8.28" fill="#46085c"/>
<rect x="137.55" y="409.55" width="9.22" height="8.28" fill="#fde725"/>
<rect x="243.38" y="409.55" width="9.22" height="8.28" fill="#eae51a"/>
<rect x="137.55" y="417.43" width="9.22" height="8.28" fill="#470e61"/>
<rect x="146.37" y="417.43" width="9.22" height="8.28" fill="#4cc26c"/>
<rect x="199.28" y="417.43" width="9.22" height="8.28" fill="#69cd5b"/>
<rect x="234.56" y="417.43" width="9.22" height="8.28" fill="#355f8d"/>
<rect x="243.38" y="417.43" width="9.22" height="8.28" fill="#481769"/>
<rect x="75.82" y="425.31" width="9.22" height="8.28" fill="#46085c"/>
<rect x="84.64" y="425.31" width="9.22" height="8.28" fill="#471164"/>
<rect x="93.46" y="425.31" width="9.22" height="8.28" fill="#46085c"/>
<rect x="111.09" y="425.31" width="9.22" height="8.28" fill="#46075a"/>
<rect x="137.55" y="425.31" width="18.04" height="8.28" fill="#482475"/>
<rect x="155.19" y="425.31" width="9.22" height="8.28" fill="#218e8d"/>
<rect x="172.82" y="425.31" width="35.67" height="8.28" fill="#471164"/>
<rect x="216.92" y="425.31" width="9.22" height="8.28" fill="#470e61"/>
<rect x="225.74" y="425.31" width="9.22" height="8.28" fill="#481769"/>
<rect x="234.56" y="425.31" width="9.22" height="8.28" fill="#471164"/>
<rect x="243.38" y="425.31" width="9.22" height="8.28" fill="#433d84"/>
<rect x="252.19" y="425.31" width="9.22" height="8.28" fill="#471164"/>
<rect x="269.83" y="425.31" width="9.22" height="8.28" fill="#481769"/>
<rect x="278.65" y="425.31" width="18.04" height="8.28" fill="#481f70"/>
<rect x="296.29" y="425.31" width="9.22" height="8.28" fill="#460b5e"/>
<rect x="305.11" y="425.31" width="9.22" height="8.28" fill="#481769"/>
<rect x="313.93" y="425.31" width="9.22" height="8.28" fill="#46085c"/>
<rect x="322.74" y="425.31" width="9.22" height="8.28" fill="#481769"/>
<rect x="331.56" y="425.31" width="9.22" height="8.28" fill="#460b5e"/>
<rect x="340.38" y="425.31" width="9.22" height="8.28" fill="#481769"/>
<rect x="75.82" y="433.19" width="26.86" height="8.28" fill="#472c7a"/>
<rect x="102.27" y="433.19" width="35.67" height="8.28" fill="#471164"/>
<rect x="137.55" y="433.19" width="9.22" height="8.28" fill="#433d84"/>
<rect x="146.37" y="433.19" width="9.22" height="8.28" fill="#481f70"/>
<rect x="172.82" y="433.19" width="9.22" height="8.28" fill="#481f70"/>
<rect x="190.46" y="433.19" width="9.22" height="8.28" fill="#471164"/>
<rect x="199.28" y="433.19" width="9.22" height="8.28" fill="#481f70"/>
<rect x="208.10" y="433.19" width="9.22" height="8.28" fill="#46085c"/>
<rect x="216.92" y="433.19" width="9.22" height="8.28" fill="#481769"/>
<rect x="234.56" y="433.19" width="9.22" height="8.28" fill="#46085c"/>
<rect x="243.38" y="433.19" width="9.22" height="8.28" fill="#433d84"/>
<rect x="313.93" y="433.19" width="9.22" height="8.28" fill="#482475"/>
<rect x="322.74" y="433.19" width="9.22" height="8.28" fill="#38588c"/>
<rect x="340.38" y="433.19" width="9.22" height="8.28" fill="#3d4d8a"/>
<rect x="93.46" y="441.07" width="9.22" height="8.28" fill="#471164"/>
<rect x="102.27" y="441.07" width="9.22" height="8.28" fill="#481769"/>
<rect x="119.91" y="441.07" width="9.22" height="8.28" fill="#460b5e"/>
<rect x="128.73" y="441.07" width="18.04" height="8.28" fill="#481769"/>
<rect x="146.37" y="441.07" width="9.22" height="8.28" fill="#355f8d"/>
<rect x="164.01" y="441.07" width="9.22" height="8.28" fill="#46075a"/>
<rect x="172.82" y="441.07" width="18.04" height="8.28" fill="#472c7a"/>
<rect x="190.46" y="441.07" width="9.22" height="8.28" fill="#433d84"/>
<rect x="199.28" y="441.07" width="9.22" height="8.28" fill="#2d708e"/>
<rect x="208.10" y="441.07" width="18.04" height="8.28" fill="#471164"/>
<rect x="234.56" y="441.07" width="9.22" height="8.28" fill="#471164"/>
<rect x="243.38" y="441.07" width="9.22" height="8.28" fill="#453581"/>
<rect x="269.83" y="441.07" width="9.22" height="8.28" fill="#46075a"/>
<rect x="305.11" y="441.07" width="18.04" height="8.28" fill="#46085c"/>
<rect x="93.46" y="448.96" width="18.04" height="8.28" fill="#470e61"/>
<rect x="119.91" y="448.96" width="9.22" height="8.28" fill="#472c7a"/>
<rect x="128.73" y="448.96" width="18.04" height="8.28" fill="#471164"/>
<rect x="146.37" y="448.96" width="9.22" height="8.28" fill="#472c7a"/>
<rect x="172.82" y="448.96" width="9.22" height="8.28" fill="#3d4d8a"/>
<rect x="181.64" y="448.96" width="9.22" height="8.28" fill="#27808e"/>
<rect x="190.46" y="448.96" width="9.22" height="8.28" fill="#472c7a"/>
<rect x="199.28" y="448.96" width="9.22" height="8.28" fill="#3d4d8a"/>
<rect x="208.10" y="448.96" width="9.22" height="8.28" fill="#481769"/>
<rect x="216.92" y="448.96" width="9.22" height="8.28" fill="#460b5e"/>
<rect x="234.56" y="448.96" width="9.22" height="8.28" fill="#46085c"/>
<rect x="243.38" y="448.96" width="9.22" height="8.28" fill="#472c7a"/>
<rect x="305.11" y="448.96" width="9.22" height="8.28" fill="#46085c"/>
<rect x="313.93" y="448.96" width="9.22" height="8.28" fill="#460b5e"/>
<rect x="322.74" y="448.96" width="9.22" height="8.28" fill="#46085c"/>
<rect x="93.46" y="456.84" width="9.22" height="8.28" fill="#470e61"/>
<rect x="102.27" y="456.84" width="9.22" height="8.28" fill="#472c7a"/>
<rect x="128.73" y="456.84" width="9.22" height="8.28" fill="#433d84"/>
<rect x="137.55" y="456.84" width="9.22" height="8.28" fill="#471164"/>
<rect x="146.37" y="456.84" width="9.22" height="8.28" fill="#355f8d"/>
<rect x="172.82" y="456.84" width="18.04" height="8.28" fill="#481769"/>
<rect x="190.46" y="456.84" width="9.22" height="8.28" fill="#433d84"/>
<rect x="199.28" y="456.84" width="9.22" height="8.28" fill="#27808e"/>
<rect x="208.10" y="456.84" width="9.22" height="8.28" fill="#472c7a"/>
<rect x="216.92" y="456.84" width="9.22" height="8.28" fill="#460b5e"/>
<rect x="234.56" y="456.84" width="9.22" height="8.28" fill="#471164"/>
<rect x="243.38" y="456.84" width="9.22" height="8.28" fill="#453581"/>
<rect x="305.11" y="456.84" width="9.22" height="8.28" fill="#46085c"/>
<rect x="322.74" y="456.84" width="9.22" height="8.28" fill="#46075a"/>
<rect x="146.37" y="464.72" width="9.22" height="8.28" fill="#4cc26c"/>
<rect x="199.28" y="464.72" width="9.22" height="8.28" fill="#69cd5b"/>
<rect x="234.56" y="464.72" width="9.22" height="8.28" fill="#355f8d"/>
<rect x="243.38" y="464.72" width="9.22" height="8.28" fill="#481769"/>
<rect x="93.46" y="472.60" width="9.22" height="8.28" fill="#481769"/>
<rect x="102.27" y="472.60" width="9.22" height="8.28" fill="#472c7a"/>
<rect x="119.91" y="472.60" width="9.22" height="8.28" fill="#471164"/>
<rect x="128.73" y="472.60" width="18.04" height="8.28" fill="#481f70"/>
<rect x="146.37" y="472.60" width="9.22" height="8.28" fill="#355f8d"/>
<rect x="164.01" y="472.60" width="9.22" height="8.28" fill="#460b5e"/>
<rect x="172.82" y="472.60" width="26.86" height="8.28" fill="#472c7a"/>
<rect x="199.28" y="472.60" width="9.22" height="8.28" fill="#2d708e"/>
<rect x="208.10" y="472.60" width="9.22" height="8.28" fill="#27808e"/>
<rect x="216.92" y="472.60" width="9.22" height="8.28" fill="#471164"/>
<rect x="234.56" y="472.60" width="9.22" height="8.28" fill="#470e61"/>
<rect x="243.38" y="472.60" width="9.22" height="8.28" fill="#472c7a"/>
<rect x="305.11" y="472.60" width="18.04" height="8.28" fill="#46085c"/>
<rect x="137.55" y="480.48" width="9.22" height="8.28" fill="#fde725"/>
<rect x="216.92" y="480.48" width="9.22" height="8.28" fill="#453581"/>
<rect x="243.38" y="480.48" width="9.22" height="8.28" fill="#40bd72"/>
<rect x="305.11" y="480.48" width="18.04" height="8.28" fill="#460b5e"/>
<rect x="93.46" y="488.36" width="9.22" height="8.28" fill="#471164"/>
<rect x="102.27" y="488.36" width="9.22" height="8.28" fill="#433d84"/>
<rect x="111.09" y="488.36" width="9.22" height="8.28" fill="#46075a"/>
<rect x="128.73" y="488.36" width="18.04" height="8.28" fill="#472c7a"/>
<rect x="146.37" y="488.36" width="9.22" height="8.28" fill="#355f8d"/>
<rect x="164.01" y="488.36" width="9.22" height="8.28" fill="#471164"/>
<rect x="190.46" y="488.36" width="9.22" height="8.28" fill="#481769"/>
<rect x="199.28" y="488.36" width="9.22" height="8.28" fill="#433d84"/>
<rect x="216.92" y="488.36" width="9.22" height="8.28" fill="#46085c"/>
<rect x="225.74" y="488.36" width="9.22" height="8.28" fill="#27808e"/>
<rect x="234.56" y="488.36" width="9.22" height="8.28" fill="#481f70"/>
<rect x="243.38" y="488.36" width="9.22" height="8.28" fill="#453581"/>
<rect x="252.19" y="488.36" width="35.67" height="8.28" fill="#46075a"/>
<rect x="287.47" y="488.36" width="9.22" height="8.28" fill="#481769"/>
<rect x="296.29" y="488.36" width="18.04" height="8.28" fill="#471164"/>
<rect x="322.74" y="488.36" width="9.22" height="8.28" fill="#460b5e"/>
<rect x="331.56" y="488.36" width="18.04" height="8.28" fill="#471164"/>
<rect x="137.55" y="496.24" width="9.22" height="8.28" fill="#470e61"/>
<rect x="146.37" y="496.24" width="9.22" height="8.28" fill="#40bd72"/>
<rect x="199.28" y="496.24" width="9.22" height="8.28" fill="#40bd72"/>
<rect x="234.56" y="496.24" width="9.22" height="8.28" fill="#23888e"/>
<rect x="243.38" y="496.24" width="9.22" height="8.28" fill="#481769"/>
<rect x="137.55" y="504.12" width="9.22" height="8.28" fill="#fde725"/>
<rect x="243.38" y="504.12" width="9.22" height="8.28" fill="#f1e51d"/>
<rect x="93.46" y="512.01" width="9.22" height="8.28" fill="#470e61"/>
<rect x="102.27" y="512.01" width="9.22" height="8.28" fill="#46085c"/>
<rect x="119.91" y="512.01" width="9.22" height="8.28" fill="#453581"/>
<rect x="146.37" y="512.01" width="9.22" height="8.28" fill="#460b5e"/>
<rect x="199.28" y="512.01" width="9.22" height="8.28" fill="#471164"/>
<rect x="216.92" y="512.01" width="9.22" height="8.28" fill="#46085c"/>
<rect x="234.56" y="512.01" width="9.22" height="8.28" fill="#46075a"/>
<rect x="252.19" y="512.01" width="9.22" height="8.28" fill="#27808e"/>
<rect x="261.01" y="512.01" width="9.22" height="8.28" fill="#481f70"/>
<rect x="269.83" y="512.01" width="9.22" height="8.28" fill="#414487"/>
<rect x="278.65" y="512.01" width="9.22" height="8.28" fill="#355f8d"/>
<rect x="287.47" y="512.01" width="9.22" height="8.28" fill="#306a8e"/>
<rect x="296.29" y="512.01" width="9.22" height="8.28" fill="#433d84"/>
<rect x="305.11" y="512.01" width="9.22" height="8.28" fill="#471164"/>
<rect x="313.93" y="512.01" width="9.22" height="8.28" fill="#481f70"/>
<rect x="322.74" y="512.01" width="9.22" height="8.28" fill="#481769"/>
<rect x="331.56" y="512.01" width="9.22" height="8.28" fill="#471164"/>
<rect x="340.38" y="512.01" width="9.22" height="8.28" fill="#481f70"/>
<rect x="119.91" y="519.89" width="9.22" height="8.28" fill="#460b5e"/>
<rect x="137.55" y="519.89" width="9.22" height="8.28" fill="#433d84"/>
<rect x="199.28" y="519.89" width="9.22" height="8.28" fill="#46075a"/>
<rect x="216.92" y="519.89" width="9.22" height="8.28" fill="#472c7a"/>
<rect x="243.38" y="519.89" width="9.22" height="8.28" fill="#481f70"/>
<rect x="252.19" y="519.89" width="9.22" height="8.28" fill="#471164"/>
<rect x="261.01" y="519.89" width="9.22" height="8.28" fill="#1f968b"/>
<rect x="269.83" y="519.89" width="26.86" height="8.28" fill="#472c7a"/>
<rect x="296.29" y="519.89" width="9.22" height="8.28" fill="#481f70"/>
<rect x="305.11" y="519.89" width="9.22" height="8.28" fill="#355f8d"/>
<rect x="313.93" y="519.89" width="9.22" height="8.28" fill="#453581"/>
<rect x="331.56" y="519.89" width="9.22" height="8.28" fill="#46075a"/>
<rect x="252.19" y="527.77" width="9.22" height="8.28" fill="#472c7a"/>
<rect x="261.01" y="527.77" width="9.22" height="8.28" fill="#460b5e"/>
<rect x="269.83" y="527.77" width="9.22" height="8.28" fill="#32b67a"/>
<rect x="278.65" y="527.77" width="9.22" height="8.28" fill="#23888e"/>
<rect x="287.47" y="527.77" width="9.22" height="8.28" fill="#27808e"/>
<rect x="296.29" y="527.77" width="9.22" height="8.28" fill="#38588c"/>
<rect x="252.19" y="535.65" width="9.22" height="8.28" fill="#46085c"/>
<rect x="261.01" y="535.65" width="9.22" height="8.28" fill="#450559"/>
<rect x="269.83" y="535.65" width="9.22" height="8.28" fill="#3f4788"/>
<rect x="278.65" y="535.65" width="9.22" height="8.28" fill="#8ed645"/>
<rect x="287.47" y="535.65" width="9.22" height="8.28" fill="#1e9b8a"/>
<rect x="296.29" y="535.65" width="9.22" height="8.28" fill="#297a8e"/>
<rect x="252.19" y="543.53" width="18.04" height="8.28" fill="#46085c"/>
<rect x="269.83" y="543.53" width="9.22" height="8.28" fill="#38588c"/>
<rect x="278.65" y="543.53" width="9.22" height="8.28" fill="#1f968b"/>
<rect x="287.47" y="543.53" width="9.22" height="8.28" fill="#23a983"/>
<rect x="296.29" y="543.53" width="9.22" height="8.28" fill="#1e9b8a"/>
<rect x="252.19" y="551.41" width="9.22" height="8.28" fill="#470e61"/>
<rect x="261.01" y="551.41" width="9.22" height="8.28" fill="#481f70"/>
<rect x="269.83" y="551.41" width="18.04" height="8.28" fill="#433d84"/>
<rect x="287.47" y="551.41" width="9.22" height="8.28" fill="#27808e"/>
<rect x="296.29" y="551.41" width="9.22" height="8.28" fill="#32b67a"/>
<rect x="322.74" y="551.41" width="9.22" height="8.28" fill="#471164"/>
<rect x="340.38" y="551.41" width="9.22" height="8.28" fill="#3f4788"/>
<rect x="137.55" y="559.29" width="9.22" height="8.28" fill="#46085c"/>
<rect x="243.38" y="559.29" width="9.22" height="8.28" fill="#450559"/>
<rect x="305.11" y="559.29" width="9.22" height="8.28" fill="#69cd5b"/>
<rect x="313.93" y="559.29" width="9.22" height="8.28" fill="#8ed645"/>
<rect x="322.74" y="559.29" width="9.22" height="8.28" fill="#471164"/>
<rect x="331.56" y="559.29" width="9.22" height="8.28" fill="#38588c"/>
<rect x="340.38" y="559.29" width="9.22" height="8.28" fill="#471164"/>
<rect x="305.11" y="567.17" width="9.22" height="8.28" fill="#23a983"/>
<rect x="313.93" y="567.17" width="9.22" height="8.28" fill="#b2dd2d"/>
<rect x="322.74" y="567.17" width="9.22" height="8.28" fill="#471164"/>
<rect x="331.56" y="567.17" width="9.22" height="8.28" fill="#2d708e"/>
<rect x="340.38" y="567.17" width="9.22" height="8.28" fill="#471164"/>
<rect x="216.92" y="575.06" width="9.22" height="8.28" fill="#46075a"/>
<rect x="313.93" y="575.06" width="9.22" height="8.28" fill="#460b5e"/>
<rect x="322.74" y="575.06" width="9.22" height="8.28" fill="#8ed645"/>
<rect x="331.56" y="575.06" width="9.22" height="8.28" fill="#472c7a"/>
<rect x="340.38" y="575.06" width="9.22" height="8.28" fill="#f1e51d"/>
<rect x="305.11" y="582.94" width="9.22" height="8.28" fill="#27808e"/>
<rect x="313.93" y="582.94" width="9.22" height="8.28" fill="#a5db36"/>
<rect x="322.74" y="582.94" width="9.22" height="8.28" fill="#481f70"/>
<rect x="331.56" y="582.94" width="9.22" height="8.28" fill="#218e8d"/>
<rect x="340.38" y="582.94" width="9.22" height="8.28" fill="#481769"/>
<rect x="216.92" y="590.82" width="9.22" height="8.28" fill="#46075a"/>
<rect x="313.93" y="590.82" width="9.22" height="8.28" fill="#46085c"/>
<rect x="322.74" y="590.82" width="9.22" height="8.28" fill="#8ed645"/>
<rect x="331.56" y="590.82" width="9.22" height="8.28" fill="#472c7a"/>
<rect x="340.38" y="590.82" width="9.22" height="8.28" fill="#f1e51d"/>
<rect x="67.2" y="346.7" width="282.2" height="252.2" fill="none" stroke="#1c0824" stroke-width="0.5"/>
</g>
<g filter="url(#t)">
<text class="tk" transform="translate(63.3 353.9) scale(1.16 1)" text-anchor="end">0</text>
<text class="tk" transform="translate(71.1 609.1) scale(1.16 1)" text-anchor="middle">0</text>
<text class="tk" transform="translate(63.3 393.3) scale(1.16 1)" text-anchor="end">5</text>
<text class="tk" transform="translate(115.2 609.1) scale(1.16 1)" text-anchor="middle">5</text>
<text class="tk" transform="translate(63.3 432.8) scale(1.16 1)" text-anchor="end">10</text>
<text class="tk" transform="translate(159.3 609.1) scale(1.16 1)" text-anchor="middle">10</text>
<text class="tk" transform="translate(63.3 472.2) scale(1.16 1)" text-anchor="end">15</text>
<text class="tk" transform="translate(203.4 609.1) scale(1.16 1)" text-anchor="middle">15</text>
<text class="tk" transform="translate(63.3 511.6) scale(1.16 1)" text-anchor="end">20</text>
<text class="tk" transform="translate(247.5 609.1) scale(1.16 1)" text-anchor="middle">20</text>
<text class="tk" transform="translate(63.3 551.0) scale(1.16 1)" text-anchor="end">25</text>
<text class="tk" transform="translate(291.6 609.1) scale(1.16 1)" text-anchor="middle">25</text>
<text class="tk" transform="translate(63.3 590.4) scale(1.16 1)" text-anchor="end">30</text>
<text class="tk" transform="translate(335.7 609.1) scale(1.16 1)" text-anchor="middle">30</text>
<path d="M64.8 350.6H67.2M71.6 598.9V601.3M64.8 390.0H67.2M115.7 598.9V601.3M64.8 429.5H67.2M159.8 598.9V601.3M64.8 468.9H67.2M203.9 598.9V601.3M64.8 508.3H67.2M248.0 598.9V601.3M64.8 547.7H67.2M292.1 598.9V601.3M64.8 587.1H67.2M336.2 598.9V601.3" stroke="#444" stroke-width="0.7" fill="none"/>
<text class="tt" x="124.1" y="344.0" textLength="168.5" lengthAdjust="spacingAndGlyphs">Transition Probability Matrix</text>
</g></g>
<g id="BR">
<g filter="url(#b)"><rect x="398.0" y="346.7" width="281.9" height="252.2" fill="#440154"/>
<rect x="397.80" y="346.50" width="9.21" height="8.28" fill="#1e9b8a"/>
<rect x="406.61" y="346.50" width="62.07" height="8.28" fill="#46085c"/>
<rect x="468.28" y="346.50" width="9.21" height="8.28" fill="#481769"/>
<rect x="477.08" y="346.50" width="9.21" height="8.28" fill="#482475"/>
<rect x="485.89" y="346.50" width="44.45" height="8.28" fill="#46075a"/>
<rect x="529.94" y="346.50" width="9.21" height="8.28" fill="#481f70"/>
<rect x="538.75" y="346.50" width="35.64" height="8.28" fill="#46075a"/>
<rect x="573.99" y="346.50" width="9.21" height="8.28" fill="#481769"/>
<rect x="582.80" y="346.50" width="9.21" height="8.28" fill="#46085c"/>
<rect x="600.42" y="346.50" width="79.68" height="8.28" fill="#46085c"/>
<rect x="406.61" y="354.38" width="9.21" height="8.28" fill="#95d840"/>
<rect x="415.42" y="354.38" width="9.21" height="8.28" fill="#1e9b8a"/>
<rect x="468.28" y="354.38" width="9.21" height="8.28" fill="#46085c"/>
<rect x="477.08" y="354.38" width="9.21" height="8.28" fill="#471164"/>
<rect x="529.94" y="354.38" width="9.21" height="8.28" fill="#470e61"/>
<rect x="573.99" y="354.38" width="9.21" height="8.28" fill="#46085c"/>
<rect x="406.61" y="362.26" width="9.21" height="8.28" fill="#1e9b8a"/>
<rect x="415.42" y="362.26" width="9.21" height="8.28" fill="#95d840"/>
<rect x="468.28" y="362.26" width="9.21" height="8.28" fill="#46085c"/>
<rect x="477.08" y="362.26" width="9.21" height="8.28" fill="#471164"/>
<rect x="529.94" y="362.26" width="9.21" height="8.28" fill="#470e61"/>
<rect x="573.99" y="362.26" width="9.21" height="8.28" fill="#46085c"/>
<rect x="424.23" y="370.14" width="9.21" height="8.28" fill="#20a386"/>
<rect x="433.04" y="370.14" width="9.21" height="8.28" fill="#460b5e"/>
<rect x="459.47" y="370.14" width="9.21" height="8.28" fill="#470e61"/>
<rect x="468.28" y="370.14" width="9.21" height="8.28" fill="#482475"/>
<rect x="477.08" y="370.14" width="9.21" height="8.28" fill="#414487"/>
<rect x="494.70" y="370.14" width="9.21" height="8.28" fill="#482475"/>
<rect x="503.51" y="370.14" width="9.21" height="8.28" fill="#46085c"/>
<rect x="521.13" y="370.14" width="9.21" height="8.28" fill="#470e61"/>
<rect x="529.94" y="370.14" width="9.21" height="8.28" fill="#414487"/>
<rect x="538.75" y="370.14" width="18.02" height="8.28" fill="#450559"/>
<rect x="565.18" y="370.14" width="9.21" height="8.28" fill="#470e61"/>
<rect x="573.99" y="370.14" width="9.21" height="8.28" fill="#482475"/>
<rect x="644.46" y="370.14" width="18.02" height="8.28" fill="#46075a"/>
<rect x="670.89" y="370.14" width="9.21" height="8.28" fill="#46075a"/>
<rect x="433.04" y="378.02" width="9.21" height="8.28" fill="#1e9b8a"/>
<rect x="459.47" y="378.02" width="9.21" height="8.28" fill="#481769"/>
<rect x="468.28" y="378.02" width="9.21" height="8.28" fill="#414487"/>
<rect x="477.08" y="378.02" width="9.21" height="8.28" fill="#453581"/>
<rect x="521.13" y="378.02" width="9.21" height="8.28" fill="#470e61"/>
<rect x="529.94" y="378.02" width="9.21" height="8.28" fill="#433d84"/>
<rect x="547.56" y="378.02" width="9.21" height="8.28" fill="#481f70"/>
<rect x="565.18" y="378.02" width="9.21" height="8.28" fill="#471164"/>
<rect x="573.99" y="378.02" width="9.21" height="8.28" fill="#355f8d"/>
<rect x="644.46" y="378.02" width="18.02" height="8.28" fill="#450559"/>
<rect x="406.61" y="385.91" width="9.21" height="8.28" fill="#471164"/>
<rect x="415.42" y="385.91" width="9.21" height="8.28" fill="#481769"/>
<rect x="424.23" y="385.91" width="9.21" height="8.28" fill="#460b5e"/>
<rect x="441.85" y="385.91" width="9.21" height="8.28" fill="#1e9b8a"/>
<rect x="450.66" y="385.91" width="9.21" height="8.28" fill="#471164"/>
<rect x="468.28" y="385.91" width="9.21" height="8.28" fill="#481769"/>
<rect x="477.08" y="385.91" width="9.21" height="8.28" fill="#482475"/>
<rect x="494.70" y="385.91" width="26.83" height="8.28" fill="#46085c"/>
<rect x="521.13" y="385.91" width="9.21" height="8.28" fill="#460b5e"/>
<rect x="529.94" y="385.91" width="9.21" height="8.28" fill="#482475"/>
<rect x="565.18" y="385.91" width="9.21" height="8.28" fill="#46085c"/>
<rect x="573.99" y="385.91" width="9.21" height="8.28" fill="#471164"/>
<rect x="600.42" y="385.91" width="26.83" height="8.28" fill="#460b5e"/>
<rect x="635.65" y="385.91" width="26.83" height="8.28" fill="#46085c"/>
<rect x="670.89" y="385.91" width="9.21" height="8.28" fill="#46085c"/>
<rect x="424.23" y="393.79" width="9.21" height="8.28" fill="#460b5e"/>
<rect x="450.66" y="393.79" width="9.21" height="8.28" fill="#1e9b8a"/>
<rect x="468.28" y="393.79" width="9.21" height="8.28" fill="#481769"/>
<rect x="477.08" y="393.79" width="9.21" height="8.28" fill="#482475"/>
<rect x="494.70" y="393.79" width="9.21" height="8.28" fill="#46075a"/>
<rect x="503.51" y="393.79" width="9.21" height="8.28" fill="#482475"/>
<rect x="512.32" y="393.79" width="9.21" height="8.28" fill="#472c7a"/>
<rect x="521.13" y="393.79" width="9.21" height="8.28" fill="#46085c"/>
<rect x="529.94" y="393.79" width="9.21" height="8.28" fill="#481f70"/>
<rect x="565.18" y="393.79" width="9.21" height="8.28" fill="#46085c"/>
<rect x="573.99" y="393.79" width="9.21" height="8.28" fill="#471164"/>
<rect x="600.42" y="393.79" width="26.83" height="8.28" fill="#46085c"/>
<rect x="635.65" y="393.79" width="26.83" height="8.28" fill="#46085c"/>
<rect x="670.89" y="393.79" width="9.21" height="8.28" fill="#46075a"/>
<rect x="433.04" y="401.67" width="9.21" height="8.28" fill="#481f70"/>
<rect x="459.47" y="401.67" width="9.21" height="8.28" fill="#1e9b8a"/>
<rect x="468.28" y="401.67" width="9.21" height="8.28" fill="#482475"/>
<rect x="477.08" y="401.67" width="9.21" height="8.28" fill="#355f8d"/>
<rect x="521.13" y="401.67" width="9.21" height="8.28" fill="#481769"/>
<rect x="529.94" y="401.67" width="9.21" height="8.28" fill="#355f8d"/>
<rect x="547.56" y="401.67" width="9.21" height="8.28" fill="#470e61"/>
<rect x="565.18" y="401.67" width="9.21" height="8.28" fill="#481769"/>
<rect x="573.99" y="401.67" width="9.21" height="8.28" fill="#481f70"/>
<rect x="468.28" y="409.55" width="9.21" height="8.28" fill="#fde725"/>
<rect x="573.99" y="409.55" width="9.21" height="8.28" fill="#4cc26c"/>
<rect x="477.08" y="417.43" width="9.21" height="8.28" fill="#fde725"/>
<rect x="529.94" y="417.43" width="9.21" height="8.28" fill="#32b67a"/>
<rect x="406.61" y="425.31" width="62.07" height="8.28" fill="#460b5e"/>
<rect x="468.28" y="425.31" width="9.21" height="8.28" fill="#481769"/>
<rect x="477.08" y="425.31" width="9.21" height="8.28" fill="#482475"/>
<rect x="485.89" y="425.31" width="9.21" height="8.28" fill="#1e9b8a"/>
<rect x="494.70" y="425.31" width="35.64" height="8.28" fill="#460b5e"/>
<rect x="529.94" y="425.31" width="9.21" height="8.28" fill="#482475"/>
<rect x="538.75" y="425.31" width="26.83" height="8.28" fill="#46075a"/>
<rect x="565.18" y="425.31" width="9.21" height="8.28" fill="#460b5e"/>
<rect x="573.99" y="425.31" width="9.21" height="8.28" fill="#481769"/>
<rect x="582.80" y="425.31" width="9.21" height="8.28" fill="#46085c"/>
<rect x="600.42" y="425.31" width="26.83" height="8.28" fill="#470e61"/>
<rect x="626.84" y="425.31" width="53.26" height="8.28" fill="#46085c"/>
<rect x="424.23" y="433.19" width="9.21" height="8.28" fill="#453581"/>
<rect x="459.47" y="433.19" width="9.21" height="8.28" fill="#460b5e"/>
<rect x="468.28" y="433.19" width="9.21" height="8.28" fill="#481769"/>
<rect x="477.08" y="433.19" width="9.21" height="8.28" fill="#453581"/>
<rect x="494.70" y="433.19" width="9.21" height="8.28" fill="#1e9b8a"/>
<rect x="521.13" y="433.19" width="9.21" height="8.28" fill="#460b5e"/>
<rect x="529.94" y="433.19" width="9.21" height="8.28" fill="#453581"/>
<rect x="565.18" y="433.19" width="9.21" height="8.28" fill="#460b5e"/>
<rect x="573.99" y="433.19" width="9.21" height="8.28" fill="#481769"/>
<rect x="635.65" y="433.19" width="26.83" height="8.28" fill="#450559"/>
<rect x="424.23" y="441.07" width="9.21" height="8.28" fill="#46085c"/>
<rect x="433.04" y="441.07" width="9.21" height="8.28" fill="#46075a"/>
<rect x="450.66" y="441.07" width="9.21" height="8.28" fill="#471164"/>
<rect x="459.47" y="441.07" width="9.21" height="8.28" fill="#460b5e"/>
<rect x="468.28" y="441.07" width="9.21" height="8.28" fill="#481769"/>
<rect x="477.08" y="441.07" width="9.21" height="8.28" fill="#472c7a"/>
<rect x="503.51" y="441.07" width="9.21" height="8.28" fill="#20a386"/>
<rect x="512.32" y="441.07" width="9.21" height="8.28" fill="#414487"/>
<rect x="529.94" y="441.07" width="9.21" height="8.28" fill="#472c7a"/>
<rect x="538.75" y="441.07" width="9.21" height="8.28" fill="#450559"/>
<rect x="565.18" y="441.07" width="9.21" height="8.28" fill="#460b5e"/>
<rect x="573.99" y="441.07" width="9.21" height="8.28" fill="#481769"/>
<rect x="635.65" y="441.07" width="26.83" height="8.28" fill="#46075a"/>
<rect x="424.23" y="448.96" width="9.21" height="8.28" fill="#46085c"/>
<rect x="433.04" y="448.96" width="9.21" height="8.28" fill="#46075a"/>
<rect x="450.66" y="448.96" width="9.21" height="8.28" fill="#481f70"/>
<rect x="459.47" y="448.96" width="9.21" height="8.28" fill="#460b5e"/>
<rect x="468.28" y="448.96" width="9.21" height="8.28" fill="#481769"/>
<rect x="477.08" y="448.96" width="9.21" height="8.28" fill="#472c7a"/>
<rect x="503.51" y="448.96" width="9.21" height="8.28" fill="#3d4d8a"/>
<rect x="512.32" y="448.96" width="9.21" height="8.28" fill="#23a983"/>
<rect x="529.94" y="448.96" width="9.21" height="8.28" fill="#472c7a"/>
<rect x="538.75" y="448.96" width="9.21" height="8.28" fill="#450559"/>
<rect x="565.18" y="448.96" width="9.21" height="8.28" fill="#460b5e"/>
<rect x="573.99" y="448.96" width="9.21" height="8.28" fill="#481769"/>
<rect x="644.46" y="448.96" width="18.02" height="8.28" fill="#46075a"/>
<rect x="459.47" y="456.84" width="9.21" height="8.28" fill="#470e61"/>
<rect x="468.28" y="456.84" width="9.21" height="8.28" fill="#471164"/>
<rect x="477.08" y="456.84" width="9.21" height="8.28" fill="#297a8e"/>
<rect x="521.13" y="456.84" width="9.21" height="8.28" fill="#1e9b8a"/>
<rect x="529.94" y="456.84" width="9.21" height="8.28" fill="#297a8e"/>
<rect x="565.18" y="456.84" width="18.02" height="8.28" fill="#481769"/>
<rect x="477.08" y="464.72" width="9.21" height="8.28" fill="#32b67a"/>
<rect x="529.94" y="464.72" width="9.21" height="8.28" fill="#fde725"/>
<rect x="424.23" y="472.60" width="9.21" height="8.28" fill="#46085c"/>
<rect x="433.04" y="472.60" width="9.21" height="8.28" fill="#460b5e"/>
<rect x="459.47" y="472.60" width="9.21" height="8.28" fill="#470e61"/>
<rect x="468.28" y="472.60" width="9.21" height="8.28" fill="#481f70"/>
<rect x="477.08" y="472.60" width="9.21" height="8.28" fill="#433d84"/>
<rect x="503.51" y="472.60" width="18.02" height="8.28" fill="#460b5e"/>
<rect x="521.13" y="472.60" width="9.21" height="8.28" fill="#471164"/>
<rect x="529.94" y="472.60" width="9.21" height="8.28" fill="#433d84"/>
<rect x="538.75" y="472.60" width="9.21" height="8.28" fill="#1e9b8a"/>
<rect x="565.18" y="472.60" width="9.21" height="8.28" fill="#471164"/>
<rect x="573.99" y="472.60" width="9.21" height="8.28" fill="#481f70"/>
<rect x="600.42" y="472.60" width="26.83" height="8.28" fill="#450559"/>
<rect x="635.65" y="472.60" width="44.45" height="8.28" fill="#46085c"/>
<rect x="433.04" y="480.48" width="9.21" height="8.28" fill="#453581"/>
<rect x="459.47" y="480.48" width="9.21" height="8.28" fill="#471164"/>
<rect x="468.28" y="480.48" width="9.21" height="8.28" fill="#3d4d8a"/>
<rect x="477.08" y="480.48" width="9.21" height="8.28" fill="#472c7a"/>
<rect x="521.13" y="480.48" width="9.21" height="8.28" fill="#460b5e"/>
<rect x="529.94" y="480.48" width="9.21" height="8.28" fill="#472c7a"/>
<rect x="547.56" y="480.48" width="9.21" height="8.28" fill="#1e9b8a"/>
<rect x="565.18" y="480.48" width="9.21" height="8.28" fill="#471164"/>
<rect x="573.99" y="480.48" width="9.21" height="8.28" fill="#3d4d8a"/>
<rect x="635.65" y="480.48" width="44.45" height="8.28" fill="#46075a"/>
<rect x="424.23" y="488.36" width="18.02" height="8.28" fill="#471164"/>
<rect x="450.66" y="488.36" width="9.21" height="8.28" fill="#460b5e"/>
<rect x="459.47" y="488.36" width="9.21" height="8.28" fill="#471164"/>
<rect x="468.28" y="488.36" width="9.21" height="8.28" fill="#481769"/>
<rect x="477.08" y="488.36" width="9.21" height="8.28" fill="#472c7a"/>
<rect x="494.70" y="488.36" width="9.21" height="8.28" fill="#460b5e"/>
<rect x="503.51" y="488.36" width="26.83" height="8.28" fill="#471164"/>
<rect x="529.94" y="488.36" width="9.21" height="8.28" fill="#472c7a"/>
<rect x="538.75" y="488.36" width="9.21" height="8.28" fill="#460b5e"/>
<rect x="556.37" y="488.36" width="9.21" height="8.28" fill="#1e9b8a"/>
<rect x="565.18" y="488.36" width="9.21" height="8.28" fill="#460b5e"/>
<rect x="573.99" y="488.36" width="9.21" height="8.28" fill="#481769"/>
<rect x="600.42" y="488.36" width="26.83" height="8.28" fill="#460b5e"/>
<rect x="635.65" y="488.36" width="44.45" height="8.28" fill="#460b5e"/>
<rect x="433.04" y="496.24" width="9.21" height="8.28" fill="#46075a"/>
<rect x="459.47" y="496.24" width="9.21" height="8.28" fill="#46085c"/>
<rect x="468.28" y="496.24" width="9.21" height="8.28" fill="#472c7a"/>
<rect x="477.08" y="496.24" width="9.21" height="8.28" fill="#27808e"/>
<rect x="521.13" y="496.24" width="9.21" height="8.28" fill="#460b5e"/>
<rect x="529.94" y="496.24" width="9.21" height="8.28" fill="#27808e"/>
<rect x="565.18" y="496.24" width="9.21" height="8.28" fill="#1e9b8a"/>
<rect x="573.99" y="496.24" width="9.21" height="8.28" fill="#481f70"/>
<rect x="468.28" y="504.12" width="9.21" height="8.28" fill="#4cc26c"/>
<rect x="573.99" y="504.12" width="9.21" height="8.28" fill="#fde725"/>
<rect x="582.80" y="512.01" width="9.21" height="8.28" fill="#20a386"/>
<rect x="591.61" y="512.01" width="9.21" height="8.28" fill="#470e61"/>
<rect x="600.42" y="512.01" width="9.21" height="8.28" fill="#31668e"/>
<rect x="609.22" y="512.01" width="18.02" height="8.28" fill="#355f8d"/>
<rect x="626.84" y="512.01" width="9.21" height="8.28" fill="#472c7a"/>
<rect x="582.80" y="519.89" width="9.21" height="8.28" fill="#472c7a"/>
<rect x="591.61" y="519.89" width="9.21" height="8.28" fill="#1e9b8a"/>
<rect x="600.42" y="519.89" width="9.21" height="8.28" fill="#3d4d8a"/>
<rect x="609.22" y="519.89" width="18.02" height="8.28" fill="#3a548c"/>
<rect x="626.84" y="519.89" width="9.21" height="8.28" fill="#472c7a"/>
<rect x="582.80" y="527.77" width="9.21" height="8.28" fill="#471164"/>
<rect x="600.42" y="527.77" width="9.21" height="8.28" fill="#40bd72"/>
<rect x="609.22" y="527.77" width="9.21" height="8.28" fill="#27808e"/>
<rect x="618.03" y="527.77" width="9.21" height="8.28" fill="#297a8e"/>
<rect x="626.84" y="527.77" width="9.21" height="8.28" fill="#482475"/>
<rect x="582.80" y="535.65" width="9.21" height="8.28" fill="#460b5e"/>
<rect x="600.42" y="535.65" width="9.21" height="8.28" fill="#355f8d"/>
<rect x="609.22" y="535.65" width="9.21" height="8.28" fill="#8ed645"/>
<rect x="618.03" y="535.65" width="9.21" height="8.28" fill="#23888e"/>
<rect x="626.84" y="535.65" width="9.21" height="8.28" fill="#482475"/>
<rect x="582.80" y="543.53" width="9.21" height="8.28" fill="#460b5e"/>
<rect x="600.42" y="543.53" width="9.21" height="8.28" fill="#355f8d"/>
<rect x="609.22" y="543.53" width="9.21" height="8.28" fill="#27808e"/>
<rect x="618.03" y="543.53" width="9.21" height="8.28" fill="#8ed645"/>
<rect x="626.84" y="543.53" width="9.21" height="8.28" fill="#453581"/>
<rect x="582.80" y="551.41" width="9.21" height="8.28" fill="#460b5e"/>
<rect x="600.42" y="551.41" width="9.21" height="8.28" fill="#3f4788"/>
<rect x="609.22" y="551.41" width="9.21" height="8.28" fill="#31668e"/>
<rect x="618.03" y="551.41" width="9.21" height="8.28" fill="#23888e"/>
<rect x="626.84" y="551.41" width="9.21" height="8.28" fill="#32b67a"/>
<rect x="635.65" y="559.29" width="9.21" height="8.28" fill="#7fd34e"/>
<rect x="644.46" y="559.29" width="9.21" height="8.28" fill="#1e9b8a"/>
<rect x="653.27" y="559.29" width="9.21" height="8.28" fill="#481769"/>
<rect x="662.08" y="559.29" width="9.21" height="8.28" fill="#3f4788"/>
<rect x="670.89" y="559.29" width="9.21" height="8.28" fill="#481769"/>
<rect x="635.65" y="567.17" width="9.21" height="8.28" fill="#23888e"/>
<rect x="644.46" y="567.17" width="9.21" height="8.28" fill="#cae11f"/>
<rect x="653.27" y="567.17" width="9.21" height="8.28" fill="#481769"/>
<rect x="662.08" y="567.17" width="9.21" height="8.28" fill="#38588c"/>
<rect x="670.89" y="567.17" width="9.21" height="8.28" fill="#481769"/>
<rect x="653.27" y="575.06" width="9.21" height="8.28" fill="#fde725"/>
<rect x="670.89" y="575.06" width="9.21" height="8.28" fill="#3bbb75"/>
<rect x="635.65" y="582.94" width="9.21" height="8.28" fill="#31668e"/>
<rect x="644.46" y="582.94" width="9.21" height="8.28" fill="#1e9b8a"/>
<rect x="653.27" y="582.94" width="9.21" height="8.28" fill="#481769"/>
<rect x="662.08" y="582.94" width="9.21" height="8.28" fill="#32b67a"/>
<rect x="670.89" y="582.94" width="9.21" height="8.28" fill="#481769"/>
<rect x="653.27" y="590.82" width="9.21" height="8.28" fill="#32b67a"/>
<rect x="670.89" y="590.82" width="9.21" height="8.28" fill="#fde725"/>
<rect x="398.0" y="346.7" width="281.9" height="252.2" fill="none" stroke="#1c0824" stroke-width="0.5"/>
</g>
<g filter="url(#t)">
<text class="tk" transform="translate(394.1 353.9) scale(1.16 1)" text-anchor="end">0</text>
<text class="tk" transform="translate(401.9 609.1) scale(1.16 1)" text-anchor="middle">0</text>
<text class="tk" transform="translate(394.1 393.3) scale(1.16 1)" text-anchor="end">5</text>
<text class="tk" transform="translate(446.0 609.1) scale(1.16 1)" text-anchor="middle">5</text>
<text class="tk" transform="translate(394.1 432.8) scale(1.16 1)" text-anchor="end">10</text>
<text class="tk" transform="translate(490.0 609.1) scale(1.16 1)" text-anchor="middle">10</text>
<text class="tk" transform="translate(394.1 472.2) scale(1.16 1)" text-anchor="end">15</text>
<text class="tk" transform="translate(534.0 609.1) scale(1.16 1)" text-anchor="middle">15</text>
<text class="tk" transform="translate(394.1 511.6) scale(1.16 1)" text-anchor="end">20</text>
<text class="tk" transform="translate(578.1 609.1) scale(1.16 1)" text-anchor="middle">20</text>
<text class="tk" transform="translate(394.1 551.0) scale(1.16 1)" text-anchor="end">25</text>
<text class="tk" transform="translate(622.1 609.1) scale(1.16 1)" text-anchor="middle">25</text>
<text class="tk" transform="translate(394.1 590.4) scale(1.16 1)" text-anchor="end">30</text>
<text class="tk" transform="translate(666.2 609.1) scale(1.16 1)" text-anchor="middle">30</text>
<path d="M395.6 350.6H398.0M402.4 598.9V601.3M395.6 390.0H398.0M446.5 598.9V601.3M395.6 429.5H398.0M490.5 598.9V601.3M395.6 468.9H398.0M534.5 598.9V601.3M395.6 508.3H398.0M578.6 598.9V601.3M395.6 547.7H398.0M622.6 598.9V601.3M395.6 587.1H398.0M666.7 598.9V601.3" stroke="#444" stroke-width="0.7" fill="none"/>
<text class="tt" x="413.2" y="344.0" textLength="251.5" lengthAdjust="spacingAndGlyphs">Transition Probability Matrix Ground Truth</text>
</g></g>
<g id="CL">
<g filter="url(#b)"><rect x="69.6" y="665.8" width="279.6" height="249.7" fill="#440154"/>
<rect x="69.40" y="665.60" width="26.61" height="8.20" fill="#46085c"/>
<rect x="95.61" y="665.60" width="35.35" height="8.20" fill="#470e61"/>
<rect x="130.56" y="665.60" width="9.14" height="8.20" fill="#46085c"/>
<rect x="139.30" y="665.60" width="9.14" height="8.20" fill="#472c7a"/>
<rect x="148.04" y="665.60" width="9.14" height="8.20" fill="#355f8d"/>
<rect x="156.78" y="665.60" width="9.14" height="8.20" fill="#460b5e"/>
<rect x="165.51" y="665.60" width="9.14" height="8.20" fill="#450559"/>
<rect x="174.25" y="665.60" width="17.88" height="8.20" fill="#471164"/>
<rect x="191.73" y="665.60" width="9.14" height="8.20" fill="#46085c"/>
<rect x="200.46" y="665.60" width="9.14" height="8.20" fill="#38588c"/>
<rect x="209.20" y="665.60" width="35.35" height="8.20" fill="#470e61"/>
<rect x="244.15" y="665.60" width="9.14" height="8.20" fill="#472c7a"/>
<rect x="252.89" y="665.60" width="17.88" height="8.20" fill="#46085c"/>
<rect x="270.36" y="665.60" width="44.09" height="8.20" fill="#470e61"/>
<rect x="314.05" y="665.60" width="9.14" height="8.20" fill="#481769"/>
<rect x="322.79" y="665.60" width="26.61" height="8.20" fill="#471164"/>
<rect x="78.14" y="673.40" width="17.88" height="8.20" fill="#1e9b8a"/>
<rect x="95.61" y="673.40" width="9.14" height="8.20" fill="#46085c"/>
<rect x="139.30" y="673.40" width="9.14" height="8.20" fill="#471164"/>
<rect x="148.04" y="673.40" width="9.14" height="8.20" fill="#481769"/>
<rect x="165.51" y="673.40" width="9.14" height="8.20" fill="#471164"/>
<rect x="200.46" y="673.40" width="9.14" height="8.20" fill="#471164"/>
<rect x="209.20" y="673.40" width="35.35" height="8.20" fill="#450559"/>
<rect x="244.15" y="673.40" width="9.14" height="8.20" fill="#470e61"/>
<rect x="270.36" y="673.40" width="79.04" height="8.20" fill="#46075a"/>
<rect x="78.14" y="681.21" width="17.88" height="8.20" fill="#2cb17e"/>
<rect x="95.61" y="681.21" width="9.14" height="8.20" fill="#46085c"/>
<rect x="139.30" y="681.21" width="17.88" height="8.20" fill="#460b5e"/>
<rect x="165.51" y="681.21" width="9.14" height="8.20" fill="#471164"/>
<rect x="200.46" y="681.21" width="9.14" height="8.20" fill="#460b5e"/>
<rect x="244.15" y="681.21" width="9.14" height="8.20" fill="#46085c"/>
<rect x="270.36" y="681.21" width="26.61" height="8.20" fill="#46075a"/>
<rect x="305.31" y="681.21" width="44.09" height="8.20" fill="#450559"/>
<rect x="78.14" y="689.01" width="35.35" height="8.20" fill="#471164"/>
<rect x="113.09" y="689.01" width="17.88" height="8.20" fill="#46085c"/>
<rect x="130.56" y="689.01" width="9.14" height="8.20" fill="#460b5e"/>
<rect x="139.30" y="689.01" width="9.14" height="8.20" fill="#453581"/>
<rect x="148.04" y="689.01" width="9.14" height="8.20" fill="#306a8e"/>
<rect x="165.51" y="689.01" width="35.35" height="8.20" fill="#460b5e"/>
<rect x="200.46" y="689.01" width="9.14" height="8.20" fill="#31668e"/>
<rect x="209.20" y="689.01" width="26.61" height="8.20" fill="#460b5e"/>
<rect x="235.41" y="689.01" width="9.14" height="8.20" fill="#471164"/>
<rect x="244.15" y="689.01" width="9.14" height="8.20" fill="#433d84"/>
<rect x="252.89" y="689.01" width="17.88" height="8.20" fill="#46075a"/>
<rect x="270.36" y="689.01" width="70.30" height="8.20" fill="#471164"/>
<rect x="340.26" y="689.01" width="9.14" height="8.20" fill="#481f70"/>
<rect x="104.35" y="696.81" width="9.14" height="8.20" fill="#481f70"/>
<rect x="130.56" y="696.81" width="9.14" height="8.20" fill="#46085c"/>
<rect x="139.30" y="696.81" width="9.14" height="8.20" fill="#23888e"/>
<rect x="148.04" y="696.81" width="9.14" height="8.20" fill="#38588c"/>
<rect x="200.46" y="696.81" width="9.14" height="8.20" fill="#3d4d8a"/>
<rect x="209.20" y="696.81" width="9.14" height="8.20" fill="#46075a"/>
<rect x="217.94" y="696.81" width="9.14" height="8.20" fill="#470e61"/>
<rect x="244.15" y="696.81" width="9.14" height="8.20" fill="#1f968b"/>
<rect x="340.26" y="696.81" width="9.14" height="8.20" fill="#46085c"/>
<rect x="69.40" y="704.62" width="26.61" height="8.20" fill="#470e61"/>
<rect x="95.61" y="704.62" width="44.09" height="8.20" fill="#471164"/>
<rect x="139.30" y="704.62" width="9.14" height="8.20" fill="#472c7a"/>
<rect x="148.04" y="704.62" width="9.14" height="8.20" fill="#38588c"/>
<rect x="165.51" y="704.62" width="9.14" height="8.20" fill="#450559"/>
<rect x="174.25" y="704.62" width="17.88" height="8.20" fill="#481769"/>
<rect x="191.73" y="704.62" width="9.14" height="8.20" fill="#46085c"/>
<rect x="200.46" y="704.62" width="9.14" height="8.20" fill="#3d4d8a"/>
<rect x="209.20" y="704.62" width="35.35" height="8.20" fill="#471164"/>
<rect x="244.15" y="704.62" width="9.14" height="8.20" fill="#453581"/>
<rect x="252.89" y="704.62" width="17.88" height="8.20" fill="#46075a"/>
<rect x="270.36" y="704.62" width="35.35" height="8.20" fill="#471164"/>
<rect x="305.31" y="704.62" width="9.14" height="8.20" fill="#481769"/>
<rect x="314.05" y="704.62" width="9.14" height="8.20" fill="#481f70"/>
<rect x="322.79" y="704.62" width="26.61" height="8.20" fill="#471164"/>
<rect x="69.40" y="712.42" width="26.61" height="8.20" fill="#470e61"/>
<rect x="95.61" y="712.42" width="44.09" height="8.20" fill="#471164"/>
<rect x="139.30" y="712.42" width="9.14" height="8.20" fill="#472c7a"/>
<rect x="148.04" y="712.42" width="9.14" height="8.20" fill="#38588c"/>
<rect x="174.25" y="712.42" width="17.88" height="8.20" fill="#481769"/>
<rect x="191.73" y="712.42" width="9.14" height="8.20" fill="#46085c"/>
<rect x="200.46" y="712.42" width="9.14" height="8.20" fill="#3d4d8a"/>
<rect x="209.20" y="712.42" width="35.35" height="8.20" fill="#471164"/>
<rect x="244.15" y="712.42" width="9.14" height="8.20" fill="#453581"/>
<rect x="252.89" y="712.42" width="17.88" height="8.20" fill="#46075a"/>
<rect x="270.36" y="712.42" width="35.35" height="8.20" fill="#471164"/>
<rect x="305.31" y="712.42" width="9.14" height="8.20" fill="#481769"/>
<rect x="314.05" y="712.42" width="9.14" height="8.20" fill="#481f70"/>
<rect x="322.79" y="712.42" width="26.61" height="8.20" fill="#471164"/>
<rect x="95.61" y="720.22" width="17.88" height="8.20" fill="#460b5e"/>
<rect x="130.56" y="720.22" width="9.14" height="8.20" fill="#471164"/>
<rect x="139.30" y="720.22" width="9.14" height="8.20" fill="#472c7a"/>
<rect x="148.04" y="720.22" width="9.14" height="8.20" fill="#218e8d"/>
<rect x="191.73" y="720.22" width="9.14" height="8.20" fill="#471164"/>
<rect x="200.46" y="720.22" width="9.14" height="8.20" fill="#218e8d"/>
<rect x="209.20" y="720.22" width="26.61" height="8.20" fill="#46085c"/>
<rect x="235.41" y="720.22" width="9.14" height="8.20" fill="#481769"/>
<rect x="244.15" y="720.22" width="9.14" height="8.20" fill="#453581"/>
<rect x="270.36" y="720.22" width="52.83" height="8.20" fill="#46085c"/>
<rect x="340.26" y="720.22" width="9.14" height="8.20" fill="#470e61"/>
<rect x="139.30" y="728.02" width="9.14" height="8.20" fill="#f1e51d"/>
<rect x="244.15" y="728.02" width="9.14" height="8.20" fill="#b2dd2d"/>
<rect x="130.56" y="735.83" width="9.14" height="8.20" fill="#46085c"/>
<rect x="139.30" y="735.83" width="9.14" height="8.20" fill="#470e61"/>
<rect x="148.04" y="735.83" width="9.14" height="8.20" fill="#69cd5b"/>
<rect x="191.73" y="735.83" width="9.14" height="8.20" fill="#460b5e"/>
<rect x="200.46" y="735.83" width="9.14" height="8.20" fill="#70cf57"/>
<rect x="235.41" y="735.83" width="9.14" height="8.20" fill="#460b5e"/>
<rect x="244.15" y="735.83" width="9.14" height="8.20" fill="#471164"/>
<rect x="69.40" y="743.63" width="70.30" height="8.20" fill="#470e61"/>
<rect x="139.30" y="743.63" width="9.14" height="8.20" fill="#472c7a"/>
<rect x="148.04" y="743.63" width="9.14" height="8.20" fill="#355f8d"/>
<rect x="165.51" y="743.63" width="9.14" height="8.20" fill="#450559"/>
<rect x="174.25" y="743.63" width="17.88" height="8.20" fill="#481769"/>
<rect x="191.73" y="743.63" width="9.14" height="8.20" fill="#460b5e"/>
<rect x="200.46" y="743.63" width="9.14" height="8.20" fill="#38588c"/>
<rect x="209.20" y="743.63" width="35.35" height="8.20" fill="#471164"/>
<rect x="244.15" y="743.63" width="9.14" height="8.20" fill="#453581"/>
<rect x="252.89" y="743.63" width="17.88" height="8.20" fill="#46075a"/>
<rect x="270.36" y="743.63" width="35.35" height="8.20" fill="#481467"/>
<rect x="305.31" y="743.63" width="9.14" height="8.20" fill="#481769"/>
<rect x="314.05" y="743.63" width="9.14" height="8.20" fill="#481f70"/>
<rect x="322.79" y="743.63" width="26.61" height="8.20" fill="#481467"/>
<rect x="69.40" y="751.43" width="26.61" height="8.20" fill="#46075a"/>
<rect x="95.61" y="751.43" width="9.14" height="8.20" fill="#481769"/>
<rect x="104.35" y="751.43" width="9.14" height="8.20" fill="#460b5e"/>
<rect x="130.56" y="751.43" width="9.14" height="8.20" fill="#460b5e"/>
<rect x="139.30" y="751.43" width="9.14" height="8.20" fill="#3f4788"/>
<rect x="148.04" y="751.43" width="9.14" height="8.20" fill="#1f968b"/>
<rect x="165.51" y="751.43" width="9.14" height="8.20" fill="#433d84"/>
<rect x="191.73" y="751.43" width="9.14" height="8.20" fill="#471164"/>
<rect x="200.46" y="751.43" width="9.14" height="8.20" fill="#218e8d"/>
<rect x="209.20" y="751.43" width="26.61" height="8.20" fill="#46085c"/>
<rect x="235.41" y="751.43" width="9.14" height="8.20" fill="#471164"/>
<rect x="244.15" y="751.43" width="9.14" height="8.20" fill="#453581"/>
<rect x="322.79" y="751.43" width="9.14" height="8.20" fill="#460b5e"/>
<rect x="340.26" y="751.43" width="9.14" height="8.20" fill="#471164"/>
<rect x="69.40" y="759.24" width="70.30" height="8.20" fill="#470e61"/>
<rect x="139.30" y="759.24" width="9.14" height="8.20" fill="#472c7a"/>
<rect x="148.04" y="759.24" width="9.14" height="8.20" fill="#355f8d"/>
<rect x="165.51" y="759.24" width="9.14" height="8.20" fill="#450559"/>
<rect x="174.25" y="759.24" width="17.88" height="8.20" fill="#481467"/>
<rect x="191.73" y="759.24" width="9.14" height="8.20" fill="#470e61"/>
<rect x="200.46" y="759.24" width="9.14" height="8.20" fill="#38588c"/>
<rect x="209.20" y="759.24" width="35.35" height="8.20" fill="#470e61"/>
<rect x="244.15" y="759.24" width="9.14" height="8.20" fill="#453581"/>
<rect x="252.89" y="759.24" width="17.88" height="8.20" fill="#46075a"/>
<rect x="270.36" y="759.24" width="35.35" height="8.20" fill="#471164"/>
<rect x="305.31" y="759.24" width="17.88" height="8.20" fill="#481769"/>
<rect x="322.79" y="759.24" width="26.61" height="8.20" fill="#471164"/>
<rect x="69.40" y="767.04" width="70.30" height="8.20" fill="#470e61"/>
<rect x="139.30" y="767.04" width="9.14" height="8.20" fill="#472c7a"/>
<rect x="148.04" y="767.04" width="9.14" height="8.20" fill="#355f8d"/>
<rect x="165.51" y="767.04" width="9.14" height="8.20" fill="#450559"/>
<rect x="174.25" y="767.04" width="17.88" height="8.20" fill="#481467"/>
<rect x="191.73" y="767.04" width="9.14" height="8.20" fill="#470e61"/>
<rect x="200.46" y="767.04" width="9.14" height="8.20" fill="#38588c"/>
<rect x="209.20" y="767.04" width="35.35" height="8.20" fill="#470e61"/>
<rect x="244.15" y="767.04" width="9.14" height="8.20" fill="#453581"/>
<rect x="252.89" y="767.04" width="17.88" height="8.20" fill="#46075a"/>
<rect x="270.36" y="767.04" width="35.35" height="8.20" fill="#471164"/>
<rect x="305.31" y="767.04" width="17.88" height="8.20" fill="#481769"/>
<rect x="322.79" y="767.04" width="26.61" height="8.20" fill="#471164"/>
<rect x="130.56" y="774.84" width="9.14" height="8.20" fill="#460b5e"/>
<rect x="139.30" y="774.84" width="9.14" height="8.20" fill="#472c7a"/>
<rect x="148.04" y="774.84" width="9.14" height="8.20" fill="#4cc26c"/>
<rect x="191.73" y="774.84" width="9.14" height="8.20" fill="#460b5e"/>
<rect x="200.46" y="774.84" width="9.14" height="8.20" fill="#4cc26c"/>
<rect x="235.41" y="774.84" width="9.14" height="8.20" fill="#481769"/>
<rect x="244.15" y="774.84" width="9.14" height="8.20" fill="#472c7a"/>
<rect x="130.56" y="782.65" width="9.14" height="8.20" fill="#460b5e"/>
<rect x="139.30" y="782.65" width="9.14" height="8.20" fill="#482475"/>
<rect x="148.04" y="782.65" width="9.14" height="8.20" fill="#32b67a"/>
<rect x="191.73" y="782.65" width="9.14" height="8.20" fill="#460b5e"/>
<rect x="200.46" y="782.65" width="9.14" height="8.20" fill="#32b67a"/>
<rect x="235.41" y="782.65" width="9.14" height="8.20" fill="#481769"/>
<rect x="244.15" y="782.65" width="9.14" height="8.20" fill="#472c7a"/>
<rect x="69.40" y="790.45" width="70.30" height="8.20" fill="#470e61"/>
<rect x="139.30" y="790.45" width="9.14" height="8.20" fill="#482475"/>
<rect x="148.04" y="790.45" width="9.14" height="8.20" fill="#355f8d"/>
<rect x="156.78" y="790.45" width="9.14" height="8.20" fill="#46085c"/>
<rect x="174.25" y="790.45" width="17.88" height="8.20" fill="#481467"/>
<rect x="191.73" y="790.45" width="9.14" height="8.20" fill="#460b5e"/>
<rect x="200.46" y="790.45" width="9.14" height="8.20" fill="#38588c"/>
<rect x="209.20" y="790.45" width="35.35" height="8.20" fill="#471164"/>
<rect x="244.15" y="790.45" width="9.14" height="8.20" fill="#472c7a"/>
<rect x="252.89" y="790.45" width="17.88" height="8.20" fill="#450559"/>
<rect x="270.36" y="790.45" width="35.35" height="8.20" fill="#481467"/>
<rect x="305.31" y="790.45" width="9.14" height="8.20" fill="#481769"/>
<rect x="314.05" y="790.45" width="9.14" height="8.20" fill="#481f70"/>
<rect x="322.79" y="790.45" width="26.61" height="8.20" fill="#481467"/>
<rect x="104.35" y="798.25" width="9.14" height="8.20" fill="#471164"/>
<rect x="130.56" y="798.25" width="9.14" height="8.20" fill="#460b5e"/>
<rect x="139.30" y="798.25" width="9.14" height="8.20" fill="#23888e"/>
<rect x="148.04" y="798.25" width="9.14" height="8.20" fill="#414487"/>
<rect x="191.73" y="798.25" width="9.14" height="8.20" fill="#460b5e"/>
<rect x="200.46" y="798.25" width="9.14" height="8.20" fill="#3d4d8a"/>
<rect x="209.20" y="798.25" width="9.14" height="8.20" fill="#46075a"/>
<rect x="217.94" y="798.25" width="9.14" height="8.20" fill="#453581"/>
<rect x="244.15" y="798.25" width="9.14" height="8.20" fill="#23888e"/>
<rect x="340.26" y="798.25" width="9.14" height="8.20" fill="#481f70"/>
<rect x="69.40" y="806.06" width="70.30" height="8.20" fill="#470e61"/>
<rect x="139.30" y="806.06" width="9.14" height="8.20" fill="#472c7a"/>
<rect x="148.04" y="806.06" width="9.14" height="8.20" fill="#355f8d"/>
<rect x="156.78" y="806.06" width="9.14" height="8.20" fill="#46075a"/>
<rect x="174.25" y="806.06" width="17.88" height="8.20" fill="#481769"/>
<rect x="191.73" y="806.06" width="9.14" height="8.20" fill="#460b5e"/>
<rect x="200.46" y="806.06" width="9.14" height="8.20" fill="#38588c"/>
<rect x="209.20" y="806.06" width="35.35" height="8.20" fill="#470e61"/>
<rect x="244.15" y="806.06" width="9.14" height="8.20" fill="#472c7a"/>
<rect x="252.89" y="806.06" width="17.88" height="8.20" fill="#46075a"/>
<rect x="270.36" y="806.06" width="35.35" height="8.20" fill="#481467"/>
<rect x="305.31" y="806.06" width="9.14" height="8.20" fill="#481769"/>
<rect x="314.05" y="806.06" width="9.14" height="8.20" fill="#481f70"/>
<rect x="322.79" y="806.06" width="26.61" height="8.20" fill="#481467"/>
<rect x="130.56" y="813.86" width="9.14" height="8.20" fill="#470e61"/>
<rect x="139.30" y="813.86" width="9.14" height="8.20" fill="#481f70"/>
<rect x="148.04" y="813.86" width="9.14" height="8.20" fill="#40bd72"/>
<rect x="191.73" y="813.86" width="9.14" height="8.20" fill="#470e61"/>
<rect x="200.46" y="813.86" width="9.14" height="8.20" fill="#40bd72"/>
<rect x="235.41" y="813.86" width="9.14" height="8.20" fill="#481769"/>
<rect x="244.15" y="813.86" width="9.14" height="8.20" fill="#481f70"/>
<rect x="139.30" y="821.66" width="9.14" height="8.20" fill="#f8e621"/>
<rect x="244.15" y="821.66" width="9.14" height="8.20" fill="#7fd34e"/>
<rect x="139.30" y="829.47" width="9.14" height="8.20" fill="#46085c"/>
<rect x="148.04" y="829.47" width="9.14" height="8.20" fill="#460b5e"/>
<rect x="252.89" y="829.47" width="9.14" height="8.20" fill="#433d84"/>
<rect x="261.63" y="829.47" width="9.14" height="8.20" fill="#471164"/>
<rect x="270.36" y="829.47" width="9.14" height="8.20" fill="#306a8e"/>
<rect x="279.10" y="829.47" width="9.14" height="8.20" fill="#1f968b"/>
<rect x="287.84" y="829.47" width="9.14" height="8.20" fill="#23888e"/>
<rect x="296.57" y="829.47" width="9.14" height="8.20" fill="#453581"/>
<rect x="148.04" y="837.27" width="9.14" height="8.20" fill="#481769"/>
<rect x="252.89" y="837.27" width="9.14" height="8.20" fill="#481f70"/>
<rect x="261.63" y="837.27" width="9.14" height="8.20" fill="#433d84"/>
<rect x="270.36" y="837.27" width="9.14" height="8.20" fill="#3d4d8a"/>
<rect x="279.10" y="837.27" width="9.14" height="8.20" fill="#27808e"/>
<rect x="287.84" y="837.27" width="9.14" height="8.20" fill="#297a8e"/>
<rect x="296.57" y="837.27" width="9.14" height="8.20" fill="#472c7a"/>
<rect x="305.31" y="837.27" width="9.14" height="8.20" fill="#450559"/>
<rect x="314.05" y="837.27" width="9.14" height="8.20" fill="#46085c"/>
<rect x="322.79" y="837.27" width="9.14" height="8.20" fill="#471164"/>
<rect x="340.26" y="837.27" width="9.14" height="8.20" fill="#433d84"/>
<rect x="252.89" y="845.07" width="9.14" height="8.20" fill="#471164"/>
<rect x="270.36" y="845.07" width="9.14" height="8.20" fill="#23888e"/>
<rect x="279.10" y="845.07" width="9.14" height="8.20" fill="#1f968b"/>
<rect x="287.84" y="845.07" width="9.14" height="8.20" fill="#23a983"/>
<rect x="296.57" y="845.07" width="9.14" height="8.20" fill="#453581"/>
<rect x="340.26" y="845.07" width="9.14" height="8.20" fill="#460b5e"/>
<rect x="252.89" y="852.88" width="9.14" height="8.20" fill="#481769"/>
<rect x="270.36" y="852.88" width="26.61" height="8.20" fill="#1e9b8a"/>
<rect x="296.57" y="852.88" width="9.14" height="8.20" fill="#472c7a"/>
<rect x="252.89" y="860.68" width="9.14" height="8.20" fill="#481f70"/>
<rect x="261.63" y="860.68" width="9.14" height="8.20" fill="#460b5e"/>
<rect x="270.36" y="860.68" width="9.14" height="8.20" fill="#2d708e"/>
<rect x="279.10" y="860.68" width="9.14" height="8.20" fill="#218e8d"/>
<rect x="287.84" y="860.68" width="9.14" height="8.20" fill="#1e9b8a"/>
<rect x="296.57" y="860.68" width="9.14" height="8.20" fill="#38588c"/>
<rect x="252.89" y="868.48" width="9.14" height="8.20" fill="#481f70"/>
<rect x="261.63" y="868.48" width="9.14" height="8.20" fill="#471164"/>
<rect x="270.36" y="868.48" width="9.14" height="8.20" fill="#2d708e"/>
<rect x="279.10" y="868.48" width="9.14" height="8.20" fill="#23888e"/>
<rect x="287.84" y="868.48" width="9.14" height="8.20" fill="#1e9b8a"/>
<rect x="296.57" y="868.48" width="9.14" height="8.20" fill="#355f8d"/>
<rect x="340.26" y="868.48" width="9.14" height="8.20" fill="#450559"/>
<rect x="305.31" y="876.28" width="9.14" height="8.20" fill="#23a983"/>
<rect x="314.05" y="876.28" width="9.14" height="8.20" fill="#1fa188"/>
<rect x="322.79" y="876.28" width="9.14" height="8.20" fill="#3d4d8a"/>
<rect x="331.53" y="876.28" width="9.14" height="8.20" fill="#38588c"/>
<rect x="340.26" y="876.28" width="9.14" height="8.20" fill="#3d4d8a"/>
<rect x="305.31" y="884.09" width="9.14" height="8.20" fill="#23a983"/>
<rect x="314.05" y="884.09" width="9.14" height="8.20" fill="#1fa188"/>
<rect x="322.79" y="884.09" width="9.14" height="8.20" fill="#3f4788"/>
<rect x="331.53" y="884.09" width="9.14" height="8.20" fill="#3d4d8a"/>
<rect x="340.26" y="884.09" width="9.14" height="8.20" fill="#3f4788"/>
<rect x="322.79" y="891.89" width="9.14" height="8.20" fill="#69cd5b"/>
<rect x="340.26" y="891.89" width="9.14" height="8.20" fill="#fde725"/>
<rect x="305.31" y="899.69" width="9.14" height="8.20" fill="#23888e"/>
<rect x="314.05" y="899.69" width="9.14" height="8.20" fill="#32b67a"/>
<rect x="322.79" y="899.69" width="9.14" height="8.20" fill="#453581"/>
<rect x="331.53" y="899.69" width="9.14" height="8.20" fill="#27808e"/>
<rect x="340.26" y="899.69" width="9.14" height="8.20" fill="#453581"/>
<rect x="322.79" y="907.50" width="9.14" height="8.20" fill="#69cd5b"/>
<rect x="340.26" y="907.50" width="9.14" height="8.20" fill="#fde725"/>
<rect x="69.6" y="665.8" width="279.6" height="249.7" fill="none" stroke="#1c0824" stroke-width="0.5"/>
</g>
<g filter="url(#t)">
<text class="tk" transform="translate(65.7 673.0) scale(1.16 1)" text-anchor="end">0</text>
<text class="tk" transform="translate(73.5 925.7) scale(1.16 1)" text-anchor="middle">0</text>
<text class="tk" transform="translate(65.7 712.0) scale(1.16 1)" text-anchor="end">5</text>
<text class="tk" transform="translate(117.2 925.7) scale(1.16 1)" text-anchor="middle">5</text>
<text class="tk" transform="translate(65.7 751.0) scale(1.16 1)" text-anchor="end">10</text>
<text class="tk" transform="translate(160.8 925.7) scale(1.16 1)" text-anchor="middle">10</text>
<text class="tk" transform="translate(65.7 790.0) scale(1.16 1)" text-anchor="end">15</text>
<text class="tk" transform="translate(204.5 925.7) scale(1.16 1)" text-anchor="middle">15</text>
<text class="tk" transform="translate(65.7 829.1) scale(1.16 1)" text-anchor="end">20</text>
<text class="tk" transform="translate(248.2 925.7) scale(1.16 1)" text-anchor="middle">20</text>
<text class="tk" transform="translate(65.7 868.1) scale(1.16 1)" text-anchor="end">25</text>
<text class="tk" transform="translate(291.9 925.7) scale(1.16 1)" text-anchor="middle">25</text>
<text class="tk" transform="translate(65.7 907.1) scale(1.16 1)" text-anchor="end">30</text>
<text class="tk" transform="translate(335.6 925.7) scale(1.16 1)" text-anchor="middle">30</text>
<path d="M67.2 669.7H69.6M74.0 915.5V917.9M67.2 708.7H69.6M117.7 915.5V917.9M67.2 747.7H69.6M161.3 915.5V917.9M67.2 786.7H69.6M205.0 915.5V917.9M67.2 825.8H69.6M248.7 915.5V917.9M67.2 864.8H69.6M292.4 915.5V917.9M67.2 903.8H69.6M336.1 915.5V917.9" stroke="#444" stroke-width="0.7" fill="none"/>
<text class="tt" x="125.9" y="663.1" textLength="166.9" lengthAdjust="spacingAndGlyphs">Transition Probability Matrix</text>
</g></g>
<g id="CR">
<g filter="url(#b)"><rect x="396.1" y="665.8" width="280.1" height="249.7" fill="#440154"/>
<rect x="395.90" y="665.60" width="9.15" height="8.20" fill="#3d4d8a"/>
<rect x="404.65" y="665.60" width="17.91" height="8.20" fill="#471164"/>
<rect x="422.16" y="665.60" width="44.17" height="8.20" fill="#46075a"/>
<rect x="465.93" y="665.60" width="9.15" height="8.20" fill="#472c7a"/>
<rect x="474.68" y="665.60" width="9.15" height="8.20" fill="#3f4788"/>
<rect x="483.43" y="665.60" width="44.17" height="8.20" fill="#46075a"/>
<rect x="527.20" y="665.60" width="9.15" height="8.20" fill="#3f4788"/>
<rect x="535.95" y="665.60" width="26.66" height="8.20" fill="#46075a"/>
<rect x="562.21" y="665.60" width="9.15" height="8.20" fill="#460b5e"/>
<rect x="570.96" y="665.60" width="9.15" height="8.20" fill="#453581"/>
<rect x="579.72" y="665.60" width="9.15" height="8.20" fill="#460b5e"/>
<rect x="588.47" y="665.60" width="9.15" height="8.20" fill="#46075a"/>
<rect x="597.22" y="665.60" width="26.66" height="8.20" fill="#481467"/>
<rect x="623.48" y="665.60" width="44.17" height="8.20" fill="#471164"/>
<rect x="667.25" y="665.60" width="9.15" height="8.20" fill="#481f70"/>
<rect x="404.65" y="673.40" width="9.15" height="8.20" fill="#32b67a"/>
<rect x="413.41" y="673.40" width="9.15" height="8.20" fill="#28ae80"/>
<rect x="465.93" y="673.40" width="9.15" height="8.20" fill="#471164"/>
<rect x="474.68" y="673.40" width="9.15" height="8.20" fill="#481f70"/>
<rect x="527.20" y="673.40" width="9.15" height="8.20" fill="#481f70"/>
<rect x="562.21" y="673.40" width="9.15" height="8.20" fill="#46075a"/>
<rect x="570.96" y="673.40" width="9.15" height="8.20" fill="#481769"/>
<rect x="597.22" y="673.40" width="26.66" height="8.20" fill="#46085c"/>
<rect x="623.48" y="673.40" width="52.92" height="8.20" fill="#46075a"/>
<rect x="404.65" y="681.21" width="9.15" height="8.20" fill="#28ae80"/>
<rect x="413.41" y="681.21" width="9.15" height="8.20" fill="#32b67a"/>
<rect x="465.93" y="681.21" width="9.15" height="8.20" fill="#471164"/>
<rect x="474.68" y="681.21" width="9.15" height="8.20" fill="#481f70"/>
<rect x="527.20" y="681.21" width="9.15" height="8.20" fill="#481f70"/>
<rect x="562.21" y="681.21" width="9.15" height="8.20" fill="#46075a"/>
<rect x="570.96" y="681.21" width="9.15" height="8.20" fill="#481769"/>
<rect x="597.22" y="681.21" width="26.66" height="8.20" fill="#46085c"/>
<rect x="623.48" y="681.21" width="52.92" height="8.20" fill="#46075a"/>
<rect x="422.16" y="689.01" width="9.15" height="8.20" fill="#3d4d8a"/>
<rect x="430.91" y="689.01" width="9.15" height="8.20" fill="#46085c"/>
<rect x="457.17" y="689.01" width="9.15" height="8.20" fill="#460b5e"/>
<rect x="465.93" y="689.01" width="9.15" height="8.20" fill="#433d84"/>
<rect x="474.68" y="689.01" width="9.15" height="8.20" fill="#27808e"/>
<rect x="492.18" y="689.01" width="9.15" height="8.20" fill="#481769"/>
<rect x="500.94" y="689.01" width="17.91" height="8.20" fill="#450559"/>
<rect x="518.44" y="689.01" width="9.15" height="8.20" fill="#460b5e"/>
<rect x="527.20" y="689.01" width="9.15" height="8.20" fill="#27808e"/>
<rect x="562.21" y="689.01" width="9.15" height="8.20" fill="#471164"/>
<rect x="570.96" y="689.01" width="9.15" height="8.20" fill="#433d84"/>
<rect x="597.22" y="689.01" width="26.66" height="8.20" fill="#46085c"/>
<rect x="632.23" y="689.01" width="44.17" height="8.20" fill="#46085c"/>
<rect x="430.91" y="696.81" width="9.15" height="8.20" fill="#3d4d8a"/>
<rect x="457.17" y="696.81" width="9.15" height="8.20" fill="#460b5e"/>
<rect x="465.93" y="696.81" width="9.15" height="8.20" fill="#27808e"/>
<rect x="474.68" y="696.81" width="9.15" height="8.20" fill="#2a768e"/>
<rect x="518.44" y="696.81" width="9.15" height="8.20" fill="#46085c"/>
<rect x="527.20" y="696.81" width="9.15" height="8.20" fill="#2d708e"/>
<rect x="544.70" y="696.81" width="9.15" height="8.20" fill="#471164"/>
<rect x="562.21" y="696.81" width="9.15" height="8.20" fill="#460b5e"/>
<rect x="570.96" y="696.81" width="9.15" height="8.20" fill="#23888e"/>
<rect x="632.23" y="696.81" width="44.17" height="8.20" fill="#46075a"/>
<rect x="404.65" y="704.62" width="17.91" height="8.20" fill="#481f70"/>
<rect x="422.16" y="704.62" width="9.15" height="8.20" fill="#460b5e"/>
<rect x="430.91" y="704.62" width="9.15" height="8.20" fill="#46075a"/>
<rect x="439.67" y="704.62" width="9.15" height="8.20" fill="#3d4d8a"/>
<rect x="448.42" y="704.62" width="9.15" height="8.20" fill="#460b5e"/>
<rect x="457.17" y="704.62" width="9.15" height="8.20" fill="#46075a"/>
<rect x="465.93" y="704.62" width="9.15" height="8.20" fill="#472c7a"/>
<rect x="474.68" y="704.62" width="9.15" height="8.20" fill="#355f8d"/>
<rect x="492.18" y="704.62" width="9.15" height="8.20" fill="#450559"/>
<rect x="500.94" y="704.62" width="17.91" height="8.20" fill="#460b5e"/>
<rect x="518.44" y="704.62" width="9.15" height="8.20" fill="#46085c"/>
<rect x="527.20" y="704.62" width="9.15" height="8.20" fill="#38588c"/>
<rect x="535.95" y="704.62" width="26.66" height="8.20" fill="#450559"/>
<rect x="562.21" y="704.62" width="9.15" height="8.20" fill="#470e61"/>
<rect x="570.96" y="704.62" width="9.15" height="8.20" fill="#453581"/>
<rect x="579.72" y="704.62" width="9.15" height="8.20" fill="#450559"/>
<rect x="597.22" y="704.62" width="26.66" height="8.20" fill="#471164"/>
<rect x="623.48" y="704.62" width="9.15" height="8.20" fill="#460b5e"/>
<rect x="632.23" y="704.62" width="35.41" height="8.20" fill="#470e61"/>
<rect x="667.25" y="704.62" width="9.15" height="8.20" fill="#481467"/>
<rect x="404.65" y="712.42" width="26.66" height="8.20" fill="#46085c"/>
<rect x="430.91" y="712.42" width="9.15" height="8.20" fill="#450559"/>
<rect x="448.42" y="712.42" width="9.15" height="8.20" fill="#3a548c"/>
<rect x="457.17" y="712.42" width="9.15" height="8.20" fill="#46075a"/>
<rect x="465.93" y="712.42" width="9.15" height="8.20" fill="#472c7a"/>
<rect x="474.68" y="712.42" width="9.15" height="8.20" fill="#31668e"/>
<rect x="492.18" y="712.42" width="9.15" height="8.20" fill="#450559"/>
<rect x="500.94" y="712.42" width="17.91" height="8.20" fill="#481f70"/>
<rect x="518.44" y="712.42" width="9.15" height="8.20" fill="#46085c"/>
<rect x="527.20" y="712.42" width="9.15" height="8.20" fill="#355f8d"/>
<rect x="562.21" y="712.42" width="9.15" height="8.20" fill="#470e61"/>
<rect x="570.96" y="712.42" width="9.15" height="8.20" fill="#453581"/>
<rect x="597.22" y="712.42" width="26.66" height="8.20" fill="#470e61"/>
<rect x="623.48" y="712.42" width="9.15" height="8.20" fill="#46085c"/>
<rect x="632.23" y="712.42" width="35.41" height="8.20" fill="#460b5e"/>
<rect x="667.25" y="712.42" width="9.15" height="8.20" fill="#471164"/>
<rect x="430.91" y="720.22" width="9.15" height="8.20" fill="#470e61"/>
<rect x="457.17" y="720.22" width="9.15" height="8.20" fill="#3d4d8a"/>
<rect x="465.93" y="720.22" width="9.15" height="8.20" fill="#414487"/>
<rect x="474.68" y="720.22" width="9.15" height="8.20" fill="#1e9b8a"/>
<rect x="518.44" y="720.22" width="9.15" height="8.20" fill="#471164"/>
<rect x="527.20" y="720.22" width="9.15" height="8.20" fill="#1e9b8a"/>
<rect x="544.70" y="720.22" width="9.15" height="8.20" fill="#46075a"/>
<rect x="562.21" y="720.22" width="9.15" height="8.20" fill="#481769"/>
<rect x="570.96" y="720.22" width="9.15" height="8.20" fill="#433d84"/>
<rect x="597.22" y="720.22" width="79.18" height="8.20" fill="#46075a"/>
<rect x="465.93" y="728.02" width="9.15" height="8.20" fill="#fde725"/>
<rect x="570.96" y="728.02" width="9.15" height="8.20" fill="#fde725"/>
<rect x="465.93" y="735.83" width="9.15" height="8.20" fill="#46075a"/>
<rect x="474.68" y="735.83" width="9.15" height="8.20" fill="#f8e621"/>
<rect x="527.20" y="735.83" width="9.15" height="8.20" fill="#f8e621"/>
<rect x="404.65" y="743.63" width="17.91" height="8.20" fill="#471164"/>
<rect x="422.16" y="743.63" width="44.17" height="8.20" fill="#460b5e"/>
<rect x="465.93" y="743.63" width="9.15" height="8.20" fill="#472c7a"/>
<rect x="474.68" y="743.63" width="17.91" height="8.20" fill="#3d4d8a"/>
<rect x="492.18" y="743.63" width="9.15" height="8.20" fill="#46085c"/>
<rect x="500.94" y="743.63" width="26.66" height="8.20" fill="#460b5e"/>
<rect x="527.20" y="743.63" width="9.15" height="8.20" fill="#3d4d8a"/>
<rect x="535.95" y="743.63" width="26.66" height="8.20" fill="#450559"/>
<rect x="562.21" y="743.63" width="9.15" height="8.20" fill="#460b5e"/>
<rect x="570.96" y="743.63" width="9.15" height="8.20" fill="#453581"/>
<rect x="579.72" y="743.63" width="9.15" height="8.20" fill="#46075a"/>
<rect x="597.22" y="743.63" width="26.66" height="8.20" fill="#481769"/>
<rect x="623.48" y="743.63" width="9.15" height="8.20" fill="#470e61"/>
<rect x="632.23" y="743.63" width="35.41" height="8.20" fill="#481467"/>
<rect x="667.25" y="743.63" width="9.15" height="8.20" fill="#481f70"/>
<rect x="422.16" y="751.43" width="9.15" height="8.20" fill="#472c7a"/>
<rect x="457.17" y="751.43" width="9.15" height="8.20" fill="#46085c"/>
<rect x="465.93" y="751.43" width="9.15" height="8.20" fill="#453581"/>
<rect x="474.68" y="751.43" width="9.15" height="8.20" fill="#27808e"/>
<rect x="492.18" y="751.43" width="9.15" height="8.20" fill="#38588c"/>
<rect x="518.44" y="751.43" width="9.15" height="8.20" fill="#460b5e"/>
<rect x="527.20" y="751.43" width="9.15" height="8.20" fill="#27808e"/>
<rect x="562.21" y="751.43" width="9.15" height="8.20" fill="#460b5e"/>
<rect x="570.96" y="751.43" width="9.15" height="8.20" fill="#433d84"/>
<rect x="597.22" y="751.43" width="26.66" height="8.20" fill="#470e61"/>
<rect x="623.48" y="751.43" width="9.15" height="8.20" fill="#46085c"/>
<rect x="632.23" y="751.43" width="44.17" height="8.20" fill="#460b5e"/>
<rect x="422.16" y="759.24" width="9.15" height="8.20" fill="#46085c"/>
<rect x="430.91" y="759.24" width="9.15" height="8.20" fill="#46075a"/>
<rect x="448.42" y="759.24" width="9.15" height="8.20" fill="#471164"/>
<rect x="457.17" y="759.24" width="9.15" height="8.20" fill="#46085c"/>
<rect x="465.93" y="759.24" width="9.15" height="8.20" fill="#472c7a"/>
<rect x="474.68" y="759.24" width="9.15" height="8.20" fill="#2d708e"/>
<rect x="500.94" y="759.24" width="9.15" height="8.20" fill="#355f8d"/>
<rect x="509.69" y="759.24" width="9.15" height="8.20" fill="#472c7a"/>
<rect x="518.44" y="759.24" width="9.15" height="8.20" fill="#46075a"/>
<rect x="527.20" y="759.24" width="9.15" height="8.20" fill="#306a8e"/>
<rect x="562.21" y="759.24" width="9.15" height="8.20" fill="#460b5e"/>
<rect x="570.96" y="759.24" width="9.15" height="8.20" fill="#433d84"/>
<rect x="597.22" y="759.24" width="26.66" height="8.20" fill="#470e61"/>
<rect x="623.48" y="759.24" width="9.15" height="8.20" fill="#46085c"/>
<rect x="632.23" y="759.24" width="44.17" height="8.20" fill="#470e61"/>
<rect x="422.16" y="767.04" width="9.15" height="8.20" fill="#46085c"/>
<rect x="430.91" y="767.04" width="9.15" height="8.20" fill="#46075a"/>
<rect x="448.42" y="767.04" width="9.15" height="8.20" fill="#481769"/>
<rect x="457.17" y="767.04" width="9.15" height="8.20" fill="#46085c"/>
<rect x="465.93" y="767.04" width="9.15" height="8.20" fill="#472c7a"/>
<rect x="474.68" y="767.04" width="9.15" height="8.20" fill="#2d708e"/>
<rect x="500.94" y="767.04" width="9.15" height="8.20" fill="#453581"/>
<rect x="509.69" y="767.04" width="9.15" height="8.20" fill="#355f8d"/>
<rect x="518.44" y="767.04" width="9.15" height="8.20" fill="#46075a"/>
<rect x="527.20" y="767.04" width="9.15" height="8.20" fill="#306a8e"/>
<rect x="562.21" y="767.04" width="9.15" height="8.20" fill="#460b5e"/>
<rect x="570.96" y="767.04" width="9.15" height="8.20" fill="#433d84"/>
<rect x="597.22" y="767.04" width="26.66" height="8.20" fill="#470e61"/>
<rect x="623.48" y="767.04" width="9.15" height="8.20" fill="#46085c"/>
<rect x="632.23" y="767.04" width="44.17" height="8.20" fill="#470e61"/>
<rect x="457.17" y="774.84" width="9.15" height="8.20" fill="#46085c"/>
<rect x="465.93" y="774.84" width="9.15" height="8.20" fill="#472c7a"/>
<rect x="474.68" y="774.84" width="9.15" height="8.20" fill="#32b67a"/>
<rect x="518.44" y="774.84" width="9.15" height="8.20" fill="#3d4d8a"/>
<rect x="527.20" y="774.84" width="9.15" height="8.20" fill="#32b67a"/>
<rect x="562.21" y="774.84" width="9.15" height="8.20" fill="#471164"/>
<rect x="570.96" y="774.84" width="9.15" height="8.20" fill="#472c7a"/>
<rect x="465.93" y="782.65" width="9.15" height="8.20" fill="#460b5e"/>
<rect x="474.68" y="782.65" width="9.15" height="8.20" fill="#f1e51d"/>
<rect x="527.20" y="782.65" width="9.15" height="8.20" fill="#f1e51d"/>
<rect x="570.96" y="782.65" width="9.15" height="8.20" fill="#46085c"/>
<rect x="422.16" y="790.45" width="17.91" height="8.20" fill="#450559"/>
<rect x="457.17" y="790.45" width="9.15" height="8.20" fill="#46085c"/>
<rect x="465.93" y="790.45" width="9.15" height="8.20" fill="#453581"/>
<rect x="474.68" y="790.45" width="9.15" height="8.20" fill="#297a8e"/>
<rect x="500.94" y="790.45" width="26.66" height="8.20" fill="#46075a"/>
<rect x="527.20" y="790.45" width="9.15" height="8.20" fill="#297a8e"/>
<rect x="535.95" y="790.45" width="9.15" height="8.20" fill="#3d4d8a"/>
<rect x="562.21" y="790.45" width="9.15" height="8.20" fill="#471164"/>
<rect x="570.96" y="790.45" width="9.15" height="8.20" fill="#453581"/>
<rect x="597.22" y="790.45" width="26.66" height="8.20" fill="#460b5e"/>
<rect x="623.48" y="790.45" width="9.15" height="8.20" fill="#46075a"/>
<rect x="632.23" y="790.45" width="35.41" height="8.20" fill="#470e61"/>
<rect x="667.25" y="790.45" width="9.15" height="8.20" fill="#481769"/>
<rect x="430.91" y="798.25" width="9.15" height="8.20" fill="#481769"/>
<rect x="457.17" y="798.25" width="9.15" height="8.20" fill="#460b5e"/>
<rect x="465.93" y="798.25" width="9.15" height="8.20" fill="#27808e"/>
<rect x="474.68" y="798.25" width="9.15" height="8.20" fill="#38588c"/>
<rect x="518.44" y="798.25" width="9.15" height="8.20" fill="#46075a"/>
<rect x="527.20" y="798.25" width="9.15" height="8.20" fill="#38588c"/>
<rect x="544.70" y="798.25" width="9.15" height="8.20" fill="#3d4d8a"/>
<rect x="562.21" y="798.25" width="9.15" height="8.20" fill="#470e61"/>
<rect x="570.96" y="798.25" width="9.15" height="8.20" fill="#23888e"/>
<rect x="597.22" y="798.25" width="26.66" height="8.20" fill="#46085c"/>
<rect x="632.23" y="798.25" width="35.41" height="8.20" fill="#460b5e"/>
<rect x="667.25" y="798.25" width="9.15" height="8.20" fill="#471164"/>
<rect x="404.65" y="806.06" width="35.41" height="8.20" fill="#46085c"/>
<rect x="448.42" y="806.06" width="17.91" height="8.20" fill="#46075a"/>
<rect x="465.93" y="806.06" width="9.15" height="8.20" fill="#472c7a"/>
<rect x="474.68" y="806.06" width="9.15" height="8.20" fill="#38588c"/>
<rect x="500.94" y="806.06" width="26.66" height="8.20" fill="#460b5e"/>
<rect x="527.20" y="806.06" width="9.15" height="8.20" fill="#38588c"/>
<rect x="553.46" y="806.06" width="9.15" height="8.20" fill="#3d4d8a"/>
<rect x="562.21" y="806.06" width="9.15" height="8.20" fill="#460b5e"/>
<rect x="570.96" y="806.06" width="9.15" height="8.20" fill="#472c7a"/>
<rect x="597.22" y="806.06" width="26.66" height="8.20" fill="#481769"/>
<rect x="623.48" y="806.06" width="9.15" height="8.20" fill="#460b5e"/>
<rect x="632.23" y="806.06" width="35.41" height="8.20" fill="#481467"/>
<rect x="667.25" y="806.06" width="9.15" height="8.20" fill="#481f70"/>
<rect x="457.17" y="813.86" width="9.15" height="8.20" fill="#450559"/>
<rect x="465.93" y="813.86" width="9.15" height="8.20" fill="#453581"/>
<rect x="474.68" y="813.86" width="9.15" height="8.20" fill="#32b67a"/>
<rect x="518.44" y="813.86" width="9.15" height="8.20" fill="#46075a"/>
<rect x="527.20" y="813.86" width="9.15" height="8.20" fill="#32b67a"/>
<rect x="562.21" y="813.86" width="9.15" height="8.20" fill="#3d4d8a"/>
<rect x="570.96" y="813.86" width="9.15" height="8.20" fill="#433d84"/>
<rect x="465.93" y="821.66" width="9.15" height="8.20" fill="#fde725"/>
<rect x="570.96" y="821.66" width="9.15" height="8.20" fill="#fde725"/>
<rect x="579.72" y="829.47" width="9.15" height="8.20" fill="#355f8d"/>
<rect x="588.47" y="829.47" width="9.15" height="8.20" fill="#470e61"/>
<rect x="597.22" y="829.47" width="9.15" height="8.20" fill="#27808e"/>
<rect x="605.98" y="829.47" width="9.15" height="8.20" fill="#1f968b"/>
<rect x="614.73" y="829.47" width="9.15" height="8.20" fill="#1e9b8a"/>
<rect x="623.48" y="829.47" width="9.15" height="8.20" fill="#433d84"/>
<rect x="465.93" y="837.27" width="9.15" height="8.20" fill="#450559"/>
<rect x="474.68" y="837.27" width="9.15" height="8.20" fill="#46085c"/>
<rect x="527.20" y="837.27" width="9.15" height="8.20" fill="#46075a"/>
<rect x="579.72" y="837.27" width="9.15" height="8.20" fill="#472c7a"/>
<rect x="588.47" y="837.27" width="9.15" height="8.20" fill="#3d4d8a"/>
<rect x="597.22" y="837.27" width="9.15" height="8.20" fill="#2d708e"/>
<rect x="605.98" y="837.27" width="9.15" height="8.20" fill="#23888e"/>
<rect x="614.73" y="837.27" width="9.15" height="8.20" fill="#218e8d"/>
<rect x="623.48" y="837.27" width="9.15" height="8.20" fill="#433d84"/>
<rect x="632.23" y="837.27" width="26.66" height="8.20" fill="#450559"/>
<rect x="667.25" y="837.27" width="9.15" height="8.20" fill="#46085c"/>
<rect x="579.72" y="845.07" width="9.15" height="8.20" fill="#481769"/>
<rect x="597.22" y="845.07" width="9.15" height="8.20" fill="#23a983"/>
<rect x="605.98" y="845.07" width="17.91" height="8.20" fill="#20a386"/>
<rect x="623.48" y="845.07" width="9.15" height="8.20" fill="#453581"/>
<rect x="579.72" y="852.88" width="9.15" height="8.20" fill="#481769"/>
<rect x="597.22" y="852.88" width="9.15" height="8.20" fill="#27808e"/>
<rect x="605.98" y="852.88" width="9.15" height="8.20" fill="#4cc26c"/>
<rect x="614.73" y="852.88" width="9.15" height="8.20" fill="#20a386"/>
<rect x="623.48" y="852.88" width="9.15" height="8.20" fill="#453581"/>
<rect x="579.72" y="860.68" width="9.15" height="8.20" fill="#481769"/>
<rect x="597.22" y="860.68" width="9.15" height="8.20" fill="#27808e"/>
<rect x="605.98" y="860.68" width="9.15" height="8.20" fill="#23a983"/>
<rect x="614.73" y="860.68" width="9.15" height="8.20" fill="#5ec962"/>
<rect x="623.48" y="860.68" width="9.15" height="8.20" fill="#433d84"/>
<rect x="579.72" y="868.48" width="9.15" height="8.20" fill="#481769"/>
<rect x="597.22" y="868.48" width="9.15" height="8.20" fill="#27808e"/>
<rect x="605.98" y="868.48" width="9.15" height="8.20" fill="#1e9b8a"/>
<rect x="614.73" y="868.48" width="9.15" height="8.20" fill="#23a983"/>
<rect x="623.48" y="868.48" width="9.15" height="8.20" fill="#27808e"/>
<rect x="632.23" y="876.28" width="17.91" height="8.20" fill="#32b67a"/>
<rect x="649.74" y="876.28" width="9.15" height="8.20" fill="#433d84"/>
<rect x="658.49" y="876.28" width="9.15" height="8.20" fill="#355f8d"/>
<rect x="667.25" y="876.28" width="9.15" height="8.20" fill="#433d84"/>
<rect x="632.23" y="884.09" width="9.15" height="8.20" fill="#1e9b8a"/>
<rect x="640.99" y="884.09" width="9.15" height="8.20" fill="#7fd34e"/>
<rect x="649.74" y="884.09" width="9.15" height="8.20" fill="#433d84"/>
<rect x="658.49" y="884.09" width="9.15" height="8.20" fill="#355f8d"/>
<rect x="667.25" y="884.09" width="9.15" height="8.20" fill="#433d84"/>
<rect x="649.74" y="891.89" width="9.15" height="8.20" fill="#fde725"/>
<rect x="667.25" y="891.89" width="9.15" height="8.20" fill="#fde725"/>
<rect x="632.23" y="899.69" width="9.15" height="8.20" fill="#218e8d"/>
<rect x="640.99" y="899.69" width="9.15" height="8.20" fill="#40bd72"/>
<rect x="649.74" y="899.69" width="9.15" height="8.20" fill="#433d84"/>
<rect x="658.49" y="899.69" width="9.15" height="8.20" fill="#23888e"/>
<rect x="667.25" y="899.69" width="9.15" height="8.20" fill="#433d84"/>
<rect x="649.74" y="907.50" width="9.15" height="8.20" fill="#fde725"/>
<rect x="667.25" y="907.50" width="9.15" height="8.20" fill="#fde725"/>
<rect x="396.1" y="665.8" width="280.1" height="249.7" fill="none" stroke="#1c0824" stroke-width="0.5"/>
</g>
<g filter="url(#t)">
<text class="tk" transform="translate(392.2 673.0) scale(1.16 1)" text-anchor="end">0</text>
<text class="tk" transform="translate(400.0 925.7) scale(1.16 1)" text-anchor="middle">0</text>
<text class="tk" transform="translate(392.2 712.0) scale(1.16 1)" text-anchor="end">5</text>
<text class="tk" transform="translate(443.7 925.7) scale(1.16 1)" text-anchor="middle">5</text>
<text class="tk" transform="translate(392.2 751.0) scale(1.16 1)" text-anchor="end">10</text>
<text class="tk" transform="translate(487.5 925.7) scale(1.16 1)" text-anchor="middle">10</text>
<text class="tk" transform="translate(392.2 790.0) scale(1.16 1)" text-anchor="end">15</text>
<text class="tk" transform="translate(531.3 925.7) scale(1.16 1)" text-anchor="middle">15</text>
<text class="tk" transform="translate(392.2 829.1) scale(1.16 1)" text-anchor="end">20</text>
<text class="tk" transform="translate(575.0 925.7) scale(1.16 1)" text-anchor="middle">20</text>
<text class="tk" transform="translate(392.2 868.1) scale(1.16 1)" text-anchor="end">25</text>
<text class="tk" transform="translate(618.8 925.7) scale(1.16 1)" text-anchor="middle">25</text>
<text class="tk" transform="translate(392.2 907.1) scale(1.16 1)" text-anchor="end">30</text>
<text class="tk" transform="translate(662.6 925.7) scale(1.16 1)" text-anchor="middle">30</text>
<path d="M393.7 669.7H396.1M400.5 915.5V917.9M393.7 708.7H396.1M444.2 915.5V917.9M393.7 747.7H396.1M488.0 915.5V917.9M393.7 786.7H396.1M531.8 915.5V917.9M393.7 825.8H396.1M575.5 915.5V917.9M393.7 864.8H396.1M619.3 915.5V917.9M393.7 903.8H396.1M663.1 915.5V917.9" stroke="#444" stroke-width="0.7" fill="none"/>
<text class="tt" x="411.2" y="663.1" textLength="249.8" lengthAdjust="spacingAndGlyphs">Transition Probability Matrix Ground Truth</text>
</g></g>
<g filter="url(#t)">
<text class="st" x="279.2" y="12.1" textLength="177.0" lengthAdjust="spacingAndGlyphs">Parameter: t=10, df=0.3</text>
<text class="st" x="277.5" y="324.3" textLength="182.6" lengthAdjust="spacingAndGlyphs">Parameter: t=10, df=0.7</text>
<text class="st" x="275.1" y="640.8" textLength="180.6" lengthAdjust="spacingAndGlyphs">Parameter: t=10, df=1.0</text>
<text class="lb" transform="translate(2.8 166.0) scale(1.06 0.98)" stroke="#000" stroke-width="0.5" stroke-linejoin="round">A</text>
<text class="lb" transform="translate(3.0 483.2) scale(1.09 0.98)" stroke="#000" stroke-width="0.5" stroke-linejoin="round">B</text>
<text class="lb" transform="translate(4.7 800.3) scale(1.06 1.0)" stroke="#000" stroke-width="0.5" stroke-linejoin="round">C</text>
</g>
</svg></body></html>
